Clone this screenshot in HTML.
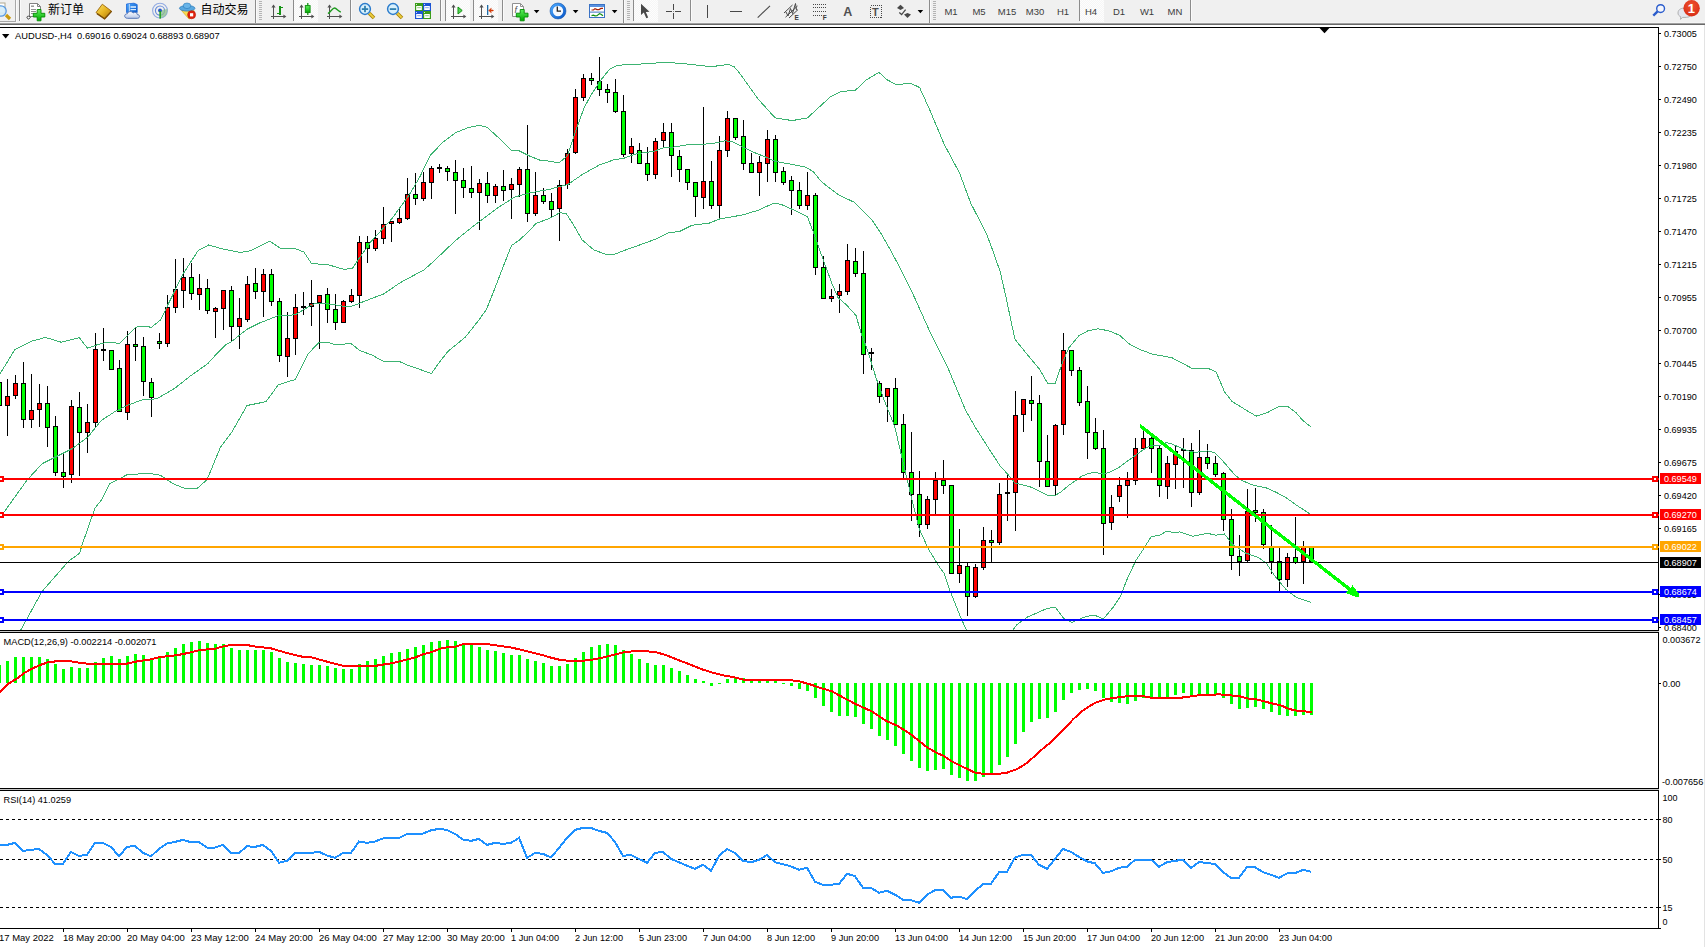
<!DOCTYPE html><html><head><meta charset="utf-8"><title>AUDUSD-,H4</title><style>
html,body{margin:0;padding:0;background:#fff;overflow:hidden;width:1705px;height:947px}svg{display:block;position:absolute;left:0;top:0}
text{font-family:"Liberation Sans","Noto Sans CJK SC",sans-serif;fill:#000}
.ax{font-size:9.9px}.tb{font-size:9.5px;fill:#3c3c3c}.cn{font-size:12px;fill:#000}.lb{font-size:9.9px;fill:#fff}
</style></head><body>
<svg width="1705" height="947" viewBox="0 0 1705 947">
<rect x="0" y="0" width="1705" height="947" fill="#fff"/>
<g shape-rendering="crispEdges">
<rect x="0" y="27" width="1659" height="1" fill="#000"/>
<rect x="1658" y="27" width="1" height="902" fill="#000"/>
<rect x="0" y="630" width="1659" height="1" fill="#000"/>
<rect x="0" y="631" width="1659" height="1" fill="#c8c8c8"/>
<rect x="0" y="632" width="1659" height="1" fill="#000"/>
<rect x="0" y="788" width="1659" height="1" fill="#000"/>
<rect x="0" y="789" width="1659" height="1" fill="#c8c8c8"/>
<rect x="0" y="790" width="1659" height="1" fill="#000"/>
<rect x="0" y="928" width="1659" height="1" fill="#000"/>
<clipPath id="cm"><rect x="0" y="28" width="1658" height="602"/></clipPath>
<g clip-path="url(#cm)">
<rect x="-1" y="378" width="1" height="32" fill="#000"/>
<rect x="-3" y="382" width="5" height="24" fill="#000"/>
<rect x="-2" y="383" width="3" height="22" fill="#00ff00"/>
<rect x="7" y="379" width="1" height="57" fill="#000"/>
<rect x="5" y="396" width="5" height="10" fill="#000"/>
<rect x="6" y="397" width="3" height="8" fill="#ff0000"/>
<rect x="15" y="375" width="1" height="24" fill="#000"/>
<rect x="13" y="383" width="5" height="13" fill="#000"/>
<rect x="14" y="384" width="3" height="11" fill="#ff0000"/>
<rect x="23" y="362" width="1" height="66" fill="#000"/>
<rect x="21" y="383" width="5" height="37" fill="#000"/>
<rect x="22" y="384" width="3" height="35" fill="#00ff00"/>
<rect x="31" y="374" width="1" height="54" fill="#000"/>
<rect x="29" y="410" width="5" height="10" fill="#000"/>
<rect x="30" y="411" width="3" height="8" fill="#ff0000"/>
<rect x="39" y="384" width="1" height="43" fill="#000"/>
<rect x="37" y="403" width="5" height="7" fill="#000"/>
<rect x="38" y="404" width="3" height="5" fill="#ff0000"/>
<rect x="47" y="386" width="1" height="61" fill="#000"/>
<rect x="45" y="403" width="5" height="25" fill="#000"/>
<rect x="46" y="404" width="3" height="23" fill="#00ff00"/>
<rect x="55" y="416" width="1" height="60" fill="#000"/>
<rect x="53" y="426" width="5" height="47" fill="#000"/>
<rect x="54" y="427" width="3" height="45" fill="#00ff00"/>
<rect x="63" y="452" width="1" height="36" fill="#000"/>
<rect x="61" y="472" width="5" height="5" fill="#000"/>
<rect x="62" y="473" width="3" height="3" fill="#00ff00"/>
<rect x="71" y="400" width="1" height="83" fill="#000"/>
<rect x="69" y="406" width="5" height="69" fill="#000"/>
<rect x="70" y="407" width="3" height="67" fill="#ff0000"/>
<rect x="79" y="392" width="1" height="84" fill="#000"/>
<rect x="77" y="407" width="5" height="26" fill="#000"/>
<rect x="78" y="408" width="3" height="24" fill="#00ff00"/>
<rect x="87" y="404" width="1" height="49" fill="#000"/>
<rect x="85" y="422" width="5" height="11" fill="#000"/>
<rect x="86" y="423" width="3" height="9" fill="#ff0000"/>
<rect x="95" y="333" width="1" height="95" fill="#000"/>
<rect x="93" y="349" width="5" height="74" fill="#000"/>
<rect x="94" y="350" width="3" height="72" fill="#ff0000"/>
<rect x="103" y="328" width="1" height="33" fill="#000"/>
<rect x="101" y="349" width="5" height="2" fill="#000"/>
<rect x="111" y="350" width="1" height="20" fill="#000"/>
<rect x="109" y="350" width="5" height="20" fill="#000"/>
<rect x="110" y="351" width="3" height="18" fill="#00ff00"/>
<rect x="119" y="360" width="1" height="52" fill="#000"/>
<rect x="117" y="368" width="5" height="44" fill="#000"/>
<rect x="118" y="369" width="3" height="42" fill="#00ff00"/>
<rect x="127" y="331" width="1" height="89" fill="#000"/>
<rect x="125" y="344" width="5" height="69" fill="#000"/>
<rect x="126" y="345" width="3" height="67" fill="#ff0000"/>
<rect x="135" y="327" width="1" height="34" fill="#000"/>
<rect x="133" y="344" width="5" height="3" fill="#000"/>
<rect x="134" y="345" width="3" height="1" fill="#00ff00"/>
<rect x="143" y="337" width="1" height="59" fill="#000"/>
<rect x="141" y="346" width="5" height="36" fill="#000"/>
<rect x="142" y="347" width="3" height="34" fill="#00ff00"/>
<rect x="151" y="378" width="1" height="39" fill="#000"/>
<rect x="149" y="382" width="5" height="16" fill="#000"/>
<rect x="150" y="383" width="3" height="14" fill="#00ff00"/>
<rect x="159" y="333" width="1" height="16" fill="#000"/>
<rect x="157" y="341" width="5" height="3" fill="#000"/>
<rect x="158" y="342" width="3" height="1" fill="#00ff00"/>
<rect x="167" y="295" width="1" height="52" fill="#000"/>
<rect x="165" y="307" width="5" height="37" fill="#000"/>
<rect x="166" y="308" width="3" height="35" fill="#ff0000"/>
<rect x="175" y="259" width="1" height="54" fill="#000"/>
<rect x="173" y="289" width="5" height="19" fill="#000"/>
<rect x="174" y="290" width="3" height="17" fill="#ff0000"/>
<rect x="183" y="258" width="1" height="50" fill="#000"/>
<rect x="181" y="277" width="5" height="14" fill="#000"/>
<rect x="182" y="278" width="3" height="12" fill="#ff0000"/>
<rect x="191" y="263" width="1" height="37" fill="#000"/>
<rect x="189" y="277" width="5" height="17" fill="#000"/>
<rect x="190" y="278" width="3" height="15" fill="#00ff00"/>
<rect x="199" y="274" width="1" height="36" fill="#000"/>
<rect x="197" y="288" width="5" height="7" fill="#000"/>
<rect x="198" y="289" width="3" height="5" fill="#ff0000"/>
<rect x="207" y="279" width="1" height="35" fill="#000"/>
<rect x="205" y="288" width="5" height="23" fill="#000"/>
<rect x="206" y="289" width="3" height="21" fill="#00ff00"/>
<rect x="215" y="307" width="1" height="31" fill="#000"/>
<rect x="213" y="308" width="5" height="4" fill="#000"/>
<rect x="214" y="309" width="3" height="2" fill="#ff0000"/>
<rect x="223" y="290" width="1" height="40" fill="#000"/>
<rect x="221" y="290" width="5" height="19" fill="#000"/>
<rect x="222" y="291" width="3" height="17" fill="#ff0000"/>
<rect x="231" y="286" width="1" height="56" fill="#000"/>
<rect x="229" y="290" width="5" height="37" fill="#000"/>
<rect x="230" y="291" width="3" height="35" fill="#00ff00"/>
<rect x="239" y="298" width="1" height="51" fill="#000"/>
<rect x="237" y="318" width="5" height="9" fill="#000"/>
<rect x="238" y="319" width="3" height="7" fill="#ff0000"/>
<rect x="247" y="276" width="1" height="46" fill="#000"/>
<rect x="245" y="284" width="5" height="36" fill="#000"/>
<rect x="246" y="285" width="3" height="34" fill="#ff0000"/>
<rect x="255" y="268" width="1" height="31" fill="#000"/>
<rect x="253" y="283" width="5" height="9" fill="#000"/>
<rect x="254" y="284" width="3" height="7" fill="#00ff00"/>
<rect x="263" y="269" width="1" height="48" fill="#000"/>
<rect x="261" y="274" width="5" height="18" fill="#000"/>
<rect x="262" y="275" width="3" height="16" fill="#ff0000"/>
<rect x="271" y="269" width="1" height="37" fill="#000"/>
<rect x="269" y="274" width="5" height="28" fill="#000"/>
<rect x="270" y="275" width="3" height="26" fill="#00ff00"/>
<rect x="279" y="298" width="1" height="64" fill="#000"/>
<rect x="277" y="301" width="5" height="55" fill="#000"/>
<rect x="278" y="302" width="3" height="53" fill="#00ff00"/>
<rect x="287" y="312" width="1" height="65" fill="#000"/>
<rect x="285" y="338" width="5" height="19" fill="#000"/>
<rect x="286" y="339" width="3" height="17" fill="#ff0000"/>
<rect x="295" y="294" width="1" height="61" fill="#000"/>
<rect x="293" y="307" width="5" height="32" fill="#000"/>
<rect x="294" y="308" width="3" height="30" fill="#ff0000"/>
<rect x="303" y="292" width="1" height="23" fill="#000"/>
<rect x="301" y="306" width="5" height="2" fill="#000"/>
<rect x="311" y="280" width="1" height="46" fill="#000"/>
<rect x="309" y="303" width="5" height="4" fill="#000"/>
<rect x="310" y="304" width="3" height="2" fill="#ff0000"/>
<rect x="319" y="295" width="1" height="54" fill="#000"/>
<rect x="317" y="295" width="5" height="8" fill="#000"/>
<rect x="318" y="296" width="3" height="6" fill="#ff0000"/>
<rect x="327" y="288" width="1" height="35" fill="#000"/>
<rect x="325" y="294" width="5" height="16" fill="#000"/>
<rect x="326" y="295" width="3" height="14" fill="#00ff00"/>
<rect x="335" y="294" width="1" height="36" fill="#000"/>
<rect x="333" y="309" width="5" height="14" fill="#000"/>
<rect x="334" y="310" width="3" height="12" fill="#00ff00"/>
<rect x="343" y="300" width="1" height="23" fill="#000"/>
<rect x="341" y="301" width="5" height="22" fill="#000"/>
<rect x="342" y="302" width="3" height="20" fill="#ff0000"/>
<rect x="351" y="289" width="1" height="14" fill="#000"/>
<rect x="349" y="295" width="5" height="7" fill="#000"/>
<rect x="350" y="296" width="3" height="5" fill="#ff0000"/>
<rect x="359" y="236" width="1" height="72" fill="#000"/>
<rect x="357" y="242" width="5" height="54" fill="#000"/>
<rect x="358" y="243" width="3" height="52" fill="#ff0000"/>
<rect x="367" y="236" width="1" height="27" fill="#000"/>
<rect x="365" y="242" width="5" height="7" fill="#000"/>
<rect x="366" y="243" width="3" height="5" fill="#00ff00"/>
<rect x="375" y="230" width="1" height="21" fill="#000"/>
<rect x="373" y="238" width="5" height="11" fill="#000"/>
<rect x="374" y="239" width="3" height="9" fill="#ff0000"/>
<rect x="383" y="207" width="1" height="37" fill="#000"/>
<rect x="381" y="224" width="5" height="15" fill="#000"/>
<rect x="382" y="225" width="3" height="13" fill="#ff0000"/>
<rect x="391" y="221" width="1" height="21" fill="#000"/>
<rect x="389" y="221" width="5" height="3" fill="#000"/>
<rect x="390" y="222" width="3" height="1" fill="#ff0000"/>
<rect x="399" y="208" width="1" height="16" fill="#000"/>
<rect x="397" y="218" width="5" height="5" fill="#000"/>
<rect x="398" y="219" width="3" height="3" fill="#ff0000"/>
<rect x="407" y="178" width="1" height="42" fill="#000"/>
<rect x="405" y="194" width="5" height="25" fill="#000"/>
<rect x="406" y="195" width="3" height="23" fill="#ff0000"/>
<rect x="415" y="173" width="1" height="32" fill="#000"/>
<rect x="413" y="194" width="5" height="5" fill="#000"/>
<rect x="414" y="195" width="3" height="3" fill="#00ff00"/>
<rect x="423" y="172" width="1" height="29" fill="#000"/>
<rect x="421" y="182" width="5" height="17" fill="#000"/>
<rect x="422" y="183" width="3" height="15" fill="#ff0000"/>
<rect x="431" y="166" width="1" height="33" fill="#000"/>
<rect x="429" y="168" width="5" height="15" fill="#000"/>
<rect x="430" y="169" width="3" height="13" fill="#ff0000"/>
<rect x="439" y="164" width="1" height="9" fill="#000"/>
<rect x="437" y="167" width="5" height="2" fill="#000"/>
<rect x="447" y="166" width="1" height="15" fill="#000"/>
<rect x="445" y="168" width="5" height="4" fill="#000"/>
<rect x="446" y="169" width="3" height="2" fill="#00ff00"/>
<rect x="455" y="160" width="1" height="54" fill="#000"/>
<rect x="453" y="172" width="5" height="9" fill="#000"/>
<rect x="454" y="173" width="3" height="7" fill="#00ff00"/>
<rect x="463" y="168" width="1" height="30" fill="#000"/>
<rect x="461" y="180" width="5" height="8" fill="#000"/>
<rect x="462" y="181" width="3" height="6" fill="#00ff00"/>
<rect x="471" y="166" width="1" height="32" fill="#000"/>
<rect x="469" y="188" width="5" height="5" fill="#000"/>
<rect x="470" y="189" width="3" height="3" fill="#00ff00"/>
<rect x="479" y="179" width="1" height="51" fill="#000"/>
<rect x="477" y="183" width="5" height="10" fill="#000"/>
<rect x="478" y="184" width="3" height="8" fill="#ff0000"/>
<rect x="487" y="172" width="1" height="31" fill="#000"/>
<rect x="485" y="183" width="5" height="13" fill="#000"/>
<rect x="486" y="184" width="3" height="11" fill="#00ff00"/>
<rect x="495" y="184" width="1" height="19" fill="#000"/>
<rect x="493" y="186" width="5" height="10" fill="#000"/>
<rect x="494" y="187" width="3" height="8" fill="#ff0000"/>
<rect x="503" y="170" width="1" height="31" fill="#000"/>
<rect x="501" y="186" width="5" height="5" fill="#000"/>
<rect x="502" y="187" width="3" height="3" fill="#00ff00"/>
<rect x="511" y="178" width="1" height="41" fill="#000"/>
<rect x="509" y="184" width="5" height="6" fill="#000"/>
<rect x="510" y="185" width="3" height="4" fill="#ff0000"/>
<rect x="519" y="167" width="1" height="30" fill="#000"/>
<rect x="517" y="169" width="5" height="16" fill="#000"/>
<rect x="518" y="170" width="3" height="14" fill="#ff0000"/>
<rect x="527" y="125" width="1" height="97" fill="#000"/>
<rect x="525" y="169" width="5" height="45" fill="#000"/>
<rect x="526" y="170" width="3" height="43" fill="#00ff00"/>
<rect x="535" y="172" width="1" height="44" fill="#000"/>
<rect x="533" y="195" width="5" height="19" fill="#000"/>
<rect x="534" y="196" width="3" height="17" fill="#ff0000"/>
<rect x="543" y="188" width="1" height="16" fill="#000"/>
<rect x="541" y="195" width="5" height="7" fill="#000"/>
<rect x="542" y="196" width="3" height="5" fill="#00ff00"/>
<rect x="551" y="193" width="1" height="24" fill="#000"/>
<rect x="549" y="201" width="5" height="9" fill="#000"/>
<rect x="550" y="202" width="3" height="7" fill="#00ff00"/>
<rect x="559" y="180" width="1" height="61" fill="#000"/>
<rect x="557" y="185" width="5" height="24" fill="#000"/>
<rect x="558" y="186" width="3" height="22" fill="#ff0000"/>
<rect x="567" y="149" width="1" height="40" fill="#000"/>
<rect x="565" y="153" width="5" height="32" fill="#000"/>
<rect x="566" y="154" width="3" height="30" fill="#ff0000"/>
<rect x="575" y="89" width="1" height="65" fill="#000"/>
<rect x="573" y="97" width="5" height="56" fill="#000"/>
<rect x="574" y="98" width="3" height="54" fill="#ff0000"/>
<rect x="583" y="74" width="1" height="27" fill="#000"/>
<rect x="581" y="78" width="5" height="20" fill="#000"/>
<rect x="582" y="79" width="3" height="18" fill="#ff0000"/>
<rect x="591" y="73" width="1" height="12" fill="#000"/>
<rect x="589" y="78" width="5" height="3" fill="#000"/>
<rect x="590" y="79" width="3" height="1" fill="#00ff00"/>
<rect x="599" y="57" width="1" height="39" fill="#000"/>
<rect x="597" y="81" width="5" height="9" fill="#000"/>
<rect x="598" y="82" width="3" height="7" fill="#00ff00"/>
<rect x="607" y="84" width="1" height="19" fill="#000"/>
<rect x="605" y="89" width="5" height="4" fill="#000"/>
<rect x="606" y="90" width="3" height="2" fill="#00ff00"/>
<rect x="615" y="79" width="1" height="34" fill="#000"/>
<rect x="613" y="92" width="5" height="20" fill="#000"/>
<rect x="614" y="93" width="3" height="18" fill="#00ff00"/>
<rect x="623" y="95" width="1" height="62" fill="#000"/>
<rect x="621" y="111" width="5" height="44" fill="#000"/>
<rect x="622" y="112" width="3" height="42" fill="#00ff00"/>
<rect x="631" y="138" width="1" height="25" fill="#000"/>
<rect x="629" y="146" width="5" height="8" fill="#000"/>
<rect x="630" y="147" width="3" height="6" fill="#ff0000"/>
<rect x="639" y="143" width="1" height="21" fill="#000"/>
<rect x="637" y="150" width="5" height="14" fill="#000"/>
<rect x="638" y="151" width="3" height="12" fill="#00ff00"/>
<rect x="647" y="147" width="1" height="34" fill="#000"/>
<rect x="645" y="163" width="5" height="12" fill="#000"/>
<rect x="646" y="164" width="3" height="10" fill="#00ff00"/>
<rect x="655" y="138" width="1" height="41" fill="#000"/>
<rect x="653" y="141" width="5" height="34" fill="#000"/>
<rect x="654" y="142" width="3" height="32" fill="#ff0000"/>
<rect x="663" y="123" width="1" height="25" fill="#000"/>
<rect x="661" y="132" width="5" height="9" fill="#000"/>
<rect x="662" y="133" width="3" height="7" fill="#ff0000"/>
<rect x="671" y="123" width="1" height="54" fill="#000"/>
<rect x="669" y="132" width="5" height="24" fill="#000"/>
<rect x="670" y="133" width="3" height="22" fill="#00ff00"/>
<rect x="679" y="150" width="1" height="32" fill="#000"/>
<rect x="677" y="156" width="5" height="14" fill="#000"/>
<rect x="678" y="157" width="3" height="12" fill="#00ff00"/>
<rect x="687" y="169" width="1" height="21" fill="#000"/>
<rect x="685" y="169" width="5" height="14" fill="#000"/>
<rect x="686" y="170" width="3" height="12" fill="#00ff00"/>
<rect x="695" y="182" width="1" height="35" fill="#000"/>
<rect x="693" y="182" width="5" height="15" fill="#000"/>
<rect x="694" y="183" width="3" height="13" fill="#00ff00"/>
<rect x="703" y="107" width="1" height="102" fill="#000"/>
<rect x="701" y="181" width="5" height="17" fill="#000"/>
<rect x="702" y="182" width="3" height="15" fill="#ff0000"/>
<rect x="711" y="161" width="1" height="48" fill="#000"/>
<rect x="709" y="181" width="5" height="25" fill="#000"/>
<rect x="710" y="182" width="3" height="23" fill="#00ff00"/>
<rect x="719" y="136" width="1" height="83" fill="#000"/>
<rect x="717" y="150" width="5" height="56" fill="#000"/>
<rect x="718" y="151" width="3" height="54" fill="#ff0000"/>
<rect x="727" y="111" width="1" height="46" fill="#000"/>
<rect x="725" y="118" width="5" height="33" fill="#000"/>
<rect x="726" y="119" width="3" height="31" fill="#ff0000"/>
<rect x="735" y="118" width="1" height="22" fill="#000"/>
<rect x="733" y="118" width="5" height="20" fill="#000"/>
<rect x="734" y="119" width="3" height="18" fill="#00ff00"/>
<rect x="743" y="120" width="1" height="50" fill="#000"/>
<rect x="741" y="136" width="5" height="28" fill="#000"/>
<rect x="742" y="137" width="3" height="26" fill="#00ff00"/>
<rect x="751" y="153" width="1" height="20" fill="#000"/>
<rect x="749" y="163" width="5" height="10" fill="#000"/>
<rect x="750" y="164" width="3" height="8" fill="#00ff00"/>
<rect x="759" y="156" width="1" height="40" fill="#000"/>
<rect x="757" y="162" width="5" height="11" fill="#000"/>
<rect x="758" y="163" width="3" height="9" fill="#ff0000"/>
<rect x="767" y="130" width="1" height="52" fill="#000"/>
<rect x="765" y="139" width="5" height="25" fill="#000"/>
<rect x="766" y="140" width="3" height="23" fill="#ff0000"/>
<rect x="775" y="135" width="1" height="47" fill="#000"/>
<rect x="773" y="139" width="5" height="34" fill="#000"/>
<rect x="774" y="140" width="3" height="32" fill="#00ff00"/>
<rect x="783" y="167" width="1" height="18" fill="#000"/>
<rect x="781" y="171" width="5" height="12" fill="#000"/>
<rect x="782" y="172" width="3" height="10" fill="#00ff00"/>
<rect x="791" y="176" width="1" height="39" fill="#000"/>
<rect x="789" y="180" width="5" height="11" fill="#000"/>
<rect x="790" y="181" width="3" height="9" fill="#00ff00"/>
<rect x="799" y="182" width="1" height="27" fill="#000"/>
<rect x="797" y="190" width="5" height="16" fill="#000"/>
<rect x="798" y="191" width="3" height="14" fill="#00ff00"/>
<rect x="807" y="172" width="1" height="38" fill="#000"/>
<rect x="805" y="195" width="5" height="11" fill="#000"/>
<rect x="806" y="196" width="3" height="9" fill="#ff0000"/>
<rect x="815" y="193" width="1" height="82" fill="#000"/>
<rect x="813" y="195" width="5" height="73" fill="#000"/>
<rect x="814" y="196" width="3" height="71" fill="#00ff00"/>
<rect x="823" y="256" width="1" height="43" fill="#000"/>
<rect x="821" y="267" width="5" height="32" fill="#000"/>
<rect x="822" y="268" width="3" height="30" fill="#00ff00"/>
<rect x="831" y="289" width="1" height="13" fill="#000"/>
<rect x="829" y="296" width="5" height="3" fill="#000"/>
<rect x="830" y="297" width="3" height="1" fill="#ff0000"/>
<rect x="839" y="284" width="1" height="29" fill="#000"/>
<rect x="837" y="291" width="5" height="5" fill="#000"/>
<rect x="838" y="292" width="3" height="3" fill="#ff0000"/>
<rect x="847" y="244" width="1" height="51" fill="#000"/>
<rect x="845" y="260" width="5" height="32" fill="#000"/>
<rect x="846" y="261" width="3" height="30" fill="#ff0000"/>
<rect x="855" y="248" width="1" height="29" fill="#000"/>
<rect x="853" y="261" width="5" height="13" fill="#000"/>
<rect x="854" y="262" width="3" height="11" fill="#00ff00"/>
<rect x="863" y="251" width="1" height="123" fill="#000"/>
<rect x="861" y="273" width="5" height="82" fill="#000"/>
<rect x="862" y="274" width="3" height="80" fill="#00ff00"/>
<rect x="871" y="348" width="1" height="22" fill="#000"/>
<rect x="869" y="352" width="5" height="2" fill="#000"/>
<rect x="879" y="381" width="1" height="22" fill="#000"/>
<rect x="877" y="383" width="5" height="14" fill="#000"/>
<rect x="878" y="384" width="3" height="12" fill="#00ff00"/>
<rect x="887" y="388" width="1" height="34" fill="#000"/>
<rect x="885" y="388" width="5" height="9" fill="#000"/>
<rect x="886" y="389" width="3" height="7" fill="#ff0000"/>
<rect x="895" y="378" width="1" height="47" fill="#000"/>
<rect x="893" y="388" width="5" height="37" fill="#000"/>
<rect x="894" y="389" width="3" height="35" fill="#00ff00"/>
<rect x="903" y="414" width="1" height="64" fill="#000"/>
<rect x="901" y="424" width="5" height="49" fill="#000"/>
<rect x="902" y="425" width="3" height="47" fill="#00ff00"/>
<rect x="911" y="432" width="1" height="89" fill="#000"/>
<rect x="909" y="472" width="5" height="23" fill="#000"/>
<rect x="910" y="473" width="3" height="21" fill="#00ff00"/>
<rect x="919" y="471" width="1" height="66" fill="#000"/>
<rect x="917" y="494" width="5" height="31" fill="#000"/>
<rect x="918" y="495" width="3" height="29" fill="#00ff00"/>
<rect x="927" y="496" width="1" height="33" fill="#000"/>
<rect x="925" y="499" width="5" height="26" fill="#000"/>
<rect x="926" y="500" width="3" height="24" fill="#ff0000"/>
<rect x="935" y="472" width="1" height="42" fill="#000"/>
<rect x="933" y="480" width="5" height="20" fill="#000"/>
<rect x="934" y="481" width="3" height="18" fill="#ff0000"/>
<rect x="943" y="460" width="1" height="34" fill="#000"/>
<rect x="941" y="480" width="5" height="6" fill="#000"/>
<rect x="942" y="481" width="3" height="4" fill="#00ff00"/>
<rect x="951" y="485" width="1" height="89" fill="#000"/>
<rect x="949" y="485" width="5" height="89" fill="#000"/>
<rect x="950" y="486" width="3" height="87" fill="#00ff00"/>
<rect x="959" y="529" width="1" height="54" fill="#000"/>
<rect x="957" y="565" width="5" height="9" fill="#000"/>
<rect x="958" y="566" width="3" height="7" fill="#ff0000"/>
<rect x="967" y="562" width="1" height="54" fill="#000"/>
<rect x="965" y="566" width="5" height="31" fill="#000"/>
<rect x="966" y="567" width="3" height="29" fill="#00ff00"/>
<rect x="975" y="564" width="1" height="34" fill="#000"/>
<rect x="973" y="567" width="5" height="30" fill="#000"/>
<rect x="974" y="568" width="3" height="28" fill="#ff0000"/>
<rect x="983" y="527" width="1" height="43" fill="#000"/>
<rect x="981" y="540" width="5" height="28" fill="#000"/>
<rect x="982" y="541" width="3" height="26" fill="#ff0000"/>
<rect x="991" y="530" width="1" height="33" fill="#000"/>
<rect x="989" y="540" width="5" height="3" fill="#000"/>
<rect x="990" y="541" width="3" height="1" fill="#00ff00"/>
<rect x="999" y="483" width="1" height="62" fill="#000"/>
<rect x="997" y="494" width="5" height="49" fill="#000"/>
<rect x="998" y="495" width="3" height="47" fill="#ff0000"/>
<rect x="1007" y="474" width="1" height="47" fill="#000"/>
<rect x="1005" y="492" width="5" height="2" fill="#000"/>
<rect x="1015" y="391" width="1" height="140" fill="#000"/>
<rect x="1013" y="415" width="5" height="78" fill="#000"/>
<rect x="1014" y="416" width="3" height="76" fill="#ff0000"/>
<rect x="1023" y="399" width="1" height="33" fill="#000"/>
<rect x="1021" y="399" width="5" height="16" fill="#000"/>
<rect x="1022" y="400" width="3" height="14" fill="#ff0000"/>
<rect x="1031" y="376" width="1" height="45" fill="#000"/>
<rect x="1029" y="400" width="5" height="4" fill="#000"/>
<rect x="1030" y="401" width="3" height="2" fill="#00ff00"/>
<rect x="1039" y="395" width="1" height="92" fill="#000"/>
<rect x="1037" y="403" width="5" height="59" fill="#000"/>
<rect x="1038" y="404" width="3" height="57" fill="#00ff00"/>
<rect x="1047" y="435" width="1" height="52" fill="#000"/>
<rect x="1045" y="461" width="5" height="26" fill="#000"/>
<rect x="1046" y="462" width="3" height="24" fill="#00ff00"/>
<rect x="1055" y="424" width="1" height="71" fill="#000"/>
<rect x="1053" y="425" width="5" height="61" fill="#000"/>
<rect x="1054" y="426" width="3" height="59" fill="#ff0000"/>
<rect x="1063" y="333" width="1" height="102" fill="#000"/>
<rect x="1061" y="350" width="5" height="75" fill="#000"/>
<rect x="1062" y="351" width="3" height="73" fill="#ff0000"/>
<rect x="1071" y="350" width="1" height="26" fill="#000"/>
<rect x="1069" y="350" width="5" height="21" fill="#000"/>
<rect x="1070" y="351" width="3" height="19" fill="#00ff00"/>
<rect x="1079" y="367" width="1" height="39" fill="#000"/>
<rect x="1077" y="370" width="5" height="33" fill="#000"/>
<rect x="1078" y="371" width="3" height="31" fill="#00ff00"/>
<rect x="1087" y="386" width="1" height="73" fill="#000"/>
<rect x="1085" y="401" width="5" height="32" fill="#000"/>
<rect x="1086" y="402" width="3" height="30" fill="#00ff00"/>
<rect x="1095" y="418" width="1" height="32" fill="#000"/>
<rect x="1093" y="432" width="5" height="17" fill="#000"/>
<rect x="1094" y="433" width="3" height="15" fill="#00ff00"/>
<rect x="1103" y="430" width="1" height="125" fill="#000"/>
<rect x="1101" y="448" width="5" height="76" fill="#000"/>
<rect x="1102" y="449" width="3" height="74" fill="#00ff00"/>
<rect x="1111" y="495" width="1" height="35" fill="#000"/>
<rect x="1109" y="507" width="5" height="16" fill="#000"/>
<rect x="1110" y="508" width="3" height="14" fill="#ff0000"/>
<rect x="1119" y="477" width="1" height="25" fill="#000"/>
<rect x="1117" y="485" width="5" height="12" fill="#000"/>
<rect x="1118" y="486" width="3" height="10" fill="#ff0000"/>
<rect x="1127" y="472" width="1" height="46" fill="#000"/>
<rect x="1125" y="480" width="5" height="6" fill="#000"/>
<rect x="1126" y="481" width="3" height="4" fill="#ff0000"/>
<rect x="1135" y="438" width="1" height="47" fill="#000"/>
<rect x="1133" y="448" width="5" height="33" fill="#000"/>
<rect x="1134" y="449" width="3" height="31" fill="#ff0000"/>
<rect x="1143" y="430" width="1" height="20" fill="#000"/>
<rect x="1141" y="438" width="5" height="11" fill="#000"/>
<rect x="1142" y="439" width="3" height="9" fill="#ff0000"/>
<rect x="1151" y="436" width="1" height="37" fill="#000"/>
<rect x="1149" y="438" width="5" height="11" fill="#000"/>
<rect x="1150" y="439" width="3" height="9" fill="#00ff00"/>
<rect x="1159" y="446" width="1" height="51" fill="#000"/>
<rect x="1157" y="448" width="5" height="38" fill="#000"/>
<rect x="1158" y="449" width="3" height="36" fill="#00ff00"/>
<rect x="1167" y="456" width="1" height="43" fill="#000"/>
<rect x="1165" y="463" width="5" height="24" fill="#000"/>
<rect x="1166" y="464" width="3" height="22" fill="#ff0000"/>
<rect x="1175" y="446" width="1" height="43" fill="#000"/>
<rect x="1173" y="451" width="5" height="14" fill="#000"/>
<rect x="1174" y="452" width="3" height="12" fill="#ff0000"/>
<rect x="1183" y="438" width="1" height="50" fill="#000"/>
<rect x="1181" y="449" width="5" height="2" fill="#000"/>
<rect x="1191" y="443" width="1" height="64" fill="#000"/>
<rect x="1189" y="450" width="5" height="43" fill="#000"/>
<rect x="1190" y="451" width="3" height="41" fill="#00ff00"/>
<rect x="1199" y="430" width="1" height="65" fill="#000"/>
<rect x="1197" y="457" width="5" height="36" fill="#000"/>
<rect x="1198" y="458" width="3" height="34" fill="#ff0000"/>
<rect x="1207" y="444" width="1" height="25" fill="#000"/>
<rect x="1205" y="457" width="5" height="7" fill="#000"/>
<rect x="1206" y="458" width="3" height="5" fill="#00ff00"/>
<rect x="1215" y="456" width="1" height="21" fill="#000"/>
<rect x="1213" y="463" width="5" height="12" fill="#000"/>
<rect x="1214" y="464" width="3" height="10" fill="#00ff00"/>
<rect x="1223" y="472" width="1" height="59" fill="#000"/>
<rect x="1221" y="473" width="5" height="47" fill="#000"/>
<rect x="1222" y="474" width="3" height="45" fill="#00ff00"/>
<rect x="1231" y="509" width="1" height="61" fill="#000"/>
<rect x="1229" y="519" width="5" height="37" fill="#000"/>
<rect x="1230" y="520" width="3" height="35" fill="#00ff00"/>
<rect x="1239" y="535" width="1" height="41" fill="#000"/>
<rect x="1237" y="556" width="5" height="6" fill="#000"/>
<rect x="1238" y="557" width="3" height="4" fill="#00ff00"/>
<rect x="1247" y="489" width="1" height="73" fill="#000"/>
<rect x="1245" y="511" width="5" height="50" fill="#000"/>
<rect x="1246" y="512" width="3" height="48" fill="#ff0000"/>
<rect x="1255" y="488" width="1" height="34" fill="#000"/>
<rect x="1253" y="510" width="5" height="3" fill="#000"/>
<rect x="1254" y="511" width="3" height="1" fill="#00ff00"/>
<rect x="1263" y="509" width="1" height="40" fill="#000"/>
<rect x="1261" y="512" width="5" height="33" fill="#000"/>
<rect x="1262" y="513" width="3" height="31" fill="#00ff00"/>
<rect x="1271" y="525" width="1" height="49" fill="#000"/>
<rect x="1269" y="546" width="5" height="16" fill="#000"/>
<rect x="1270" y="547" width="3" height="14" fill="#00ff00"/>
<rect x="1279" y="548" width="1" height="43" fill="#000"/>
<rect x="1277" y="561" width="5" height="19" fill="#000"/>
<rect x="1278" y="562" width="3" height="17" fill="#00ff00"/>
<rect x="1287" y="553" width="1" height="34" fill="#000"/>
<rect x="1285" y="557" width="5" height="23" fill="#000"/>
<rect x="1286" y="558" width="3" height="21" fill="#ff0000"/>
<rect x="1295" y="517" width="1" height="47" fill="#000"/>
<rect x="1293" y="557" width="5" height="6" fill="#000"/>
<rect x="1294" y="558" width="3" height="4" fill="#00ff00"/>
<rect x="1303" y="541" width="1" height="43" fill="#000"/>
<rect x="1301" y="547" width="5" height="15" fill="#000"/>
<rect x="1302" y="548" width="3" height="13" fill="#ff0000"/>
<rect x="1311" y="546" width="1" height="17" fill="#000"/>
<rect x="1309" y="547" width="5" height="15" fill="#000"/>
<rect x="1310" y="548" width="3" height="13" fill="#00ff00"/>
<polyline points="0.0,373.9 14.8,349.6 31.7,341.2 45.4,337.4 61.2,342.2 79.2,337.6 87.6,348.2 98.2,344.4 107.1,342.3 115.3,342.3 117.0,343.6 119.5,343.6 135.6,327.3 139.4,326.3 147.7,326.3 151.0,327.6 160.5,320.0 170.6,299.3 183.2,273.9 198.0,250.7 208.6,245.0 223.4,249.2 240.3,252.4 250.8,250.7 269.8,241.2 280.4,248.2 295.2,248.6 303.9,252.0 311.5,263.4 329.0,265.0 343.7,269.3 352.2,268.6 360.6,256.3 371.1,241.5 392.2,218.3 409.1,195.0 419.7,177.1 430.3,155.3 442.9,142.2 455.6,132.7 468.3,127.5 479.9,125.3 487.3,127.5 497.8,137.0 511.6,150.3 519.0,150.7 529.5,156.0 540.0,160.2 550.6,161.3 559.0,163.0 567.5,155.6 575.9,130.3 584.4,107.0 592.8,92.2 601.2,79.6 609.7,69.0 618.1,65.2 635.0,64.4 660.4,62.7 679.4,63.1 709.0,66.5 719.5,65.8 728.0,64.2 734.3,66.9 739.0,72.3 758.0,98.9 775.1,117.9 792.2,120.6 807.4,117.9 830.2,97.0 841.6,91.3 855.0,90.6 866.4,79.9 878.9,72.3 887.3,79.9 896.8,84.9 910.1,83.0 919.6,87.5 929.1,108.4 944.3,144.5 959.5,173.0 970.9,203.5 986.5,233.8 992.8,250.7 1000.2,271.8 1005.5,295.0 1011.8,324.6 1015.0,339.4 1028.7,356.3 1039.3,369.0 1047.7,383.3 1055.1,383.3 1062.5,362.6 1068.8,347.8 1079.4,335.2 1087.8,330.9 1098.4,328.8 1109.0,330.9 1119.5,335.2 1130.1,344.7 1140.0,349.6 1152.7,354.2 1171.7,357.6 1191.7,368.2 1207.6,368.2 1216.0,371.7 1224.5,391.8 1231.9,401.3 1245.6,409.8 1256.2,416.1 1266.7,412.9 1279.4,406.2 1287.8,406.6 1296.3,412.9 1302.6,420.3 1310.6,426.7" fill="none" stroke="#3cb371" stroke-width="1" />
<polyline points="-3.0,522.0 12.7,500.0 27.5,479.5 42.2,463.7 55.0,457.3 71.8,448.9 87.6,437.3 101.4,420.4 116.0,410.9 126.7,405.6 143.6,399.3 152.0,399.3 157.2,398.4 166.0,393.5 174.9,388.2 190.1,376.2 207.9,363.5 216.0,354.6 225.3,345.2 231.7,341.4 246.9,329.3 259.6,323.0 277.3,316.0 288.7,315.8 296.3,314.1 307.7,307.2 314.0,304.0 321.7,303.1 333.1,304.6 345.7,306.5 353.3,305.9 362.2,302.1 383.8,293.9 397.7,284.4 402.8,281.2 423.9,270.0 434.5,260.5 455.6,240.4 476.7,223.5 497.8,207.7 514.7,197.1 529.5,192.9 550.0,189.3 554.8,187.7 567.5,184.7 582.2,174.6 599.1,165.1 613.9,159.8 623.6,158.3 636.3,153.9 654.0,151.3 664.2,147.5 675.6,146.9 685.7,145.0 704.7,144.1 714.9,143.1 725.0,140.8 732.6,141.8 742.7,146.9 752.9,152.0 765.5,157.0 775.7,161.5 793.4,164.6 806.1,167.2 813.7,172.2 820.0,180.0 826.3,185.7 839.0,195.2 854.2,202.2 872.0,219.9 880.8,233.2 891.0,251.0 901.1,270.0 908.7,285.2 915.7,300.0 929.1,330.0 948.0,368.0 965.5,410.0 975.0,426.9 989.8,450.1 1000.0,465.7 1007.6,474.2 1015.2,483.2 1023.8,485.1 1032.3,487.5 1039.9,491.3 1047.5,495.3 1055.6,495.3 1061.8,491.3 1068.4,485.6 1076.0,480.4 1081.7,476.1 1089.3,473.3 1095.0,472.3 1099.8,473.3 1103.6,474.2 1109.3,472.3 1118.8,467.6 1126.4,461.9 1134.9,455.7 1144.4,449.0 1152.0,445.2 1160.0,445.3 1166.3,442.7 1171.6,443.8 1181.1,448.0 1187.5,450.6 1194.8,452.2 1202.2,451.7 1207.5,450.9 1214.9,452.7 1220.2,458.0 1227.6,466.5 1233.9,473.9 1240.3,479.7 1250.8,484.4 1259.3,486.5 1265.6,487.6 1276.2,492.3 1286.7,498.1 1296.2,505.0 1309.4,513.5 1311.0,514.5" fill="none" stroke="#3cb371" stroke-width="1" />
<polyline points="13.0,644.0 20.9,629.8 41.8,591.8 68.4,561.4 79.8,553.0 81.7,546.0 95.0,508.0 101.4,500.0 109.8,483.7 126.7,474.9 147.8,473.2 160.5,475.3 173.2,483.7 183.7,488.0 197.6,488.0 207.1,479.6 220.4,447.3 231.8,432.1 247.0,405.5 266.0,401.7 278.3,384.8 295.2,379.5 307.8,354.2 318.4,343.0 329.0,342.6 335.3,344.7 351.1,343.6 359.6,350.4 372.2,355.2 383.9,361.6 399.7,361.6 408.1,365.4 418.7,369.0 431.4,373.6 439.8,361.6 448.3,351.0 465.2,337.3 477.8,321.4 486.3,309.8 494.7,288.7 505.3,261.2 511.6,245.4 519.0,240.4 530.0,230.2 535.9,223.5 550.6,217.9 560.0,212.6 566.4,213.7 573.8,225.3 582.2,240.0 593.9,250.0 605.0,254.0 615.0,254.0 625.5,250.0 641.4,244.3 656.2,239.0 668.8,232.7 679.4,231.6 692.0,225.3 709.0,223.2 719.5,219.0 742.8,214.9 758.0,210.3 773.2,203.5 780.8,204.2 796.0,211.0 807.4,216.8 812.9,230.9 823.5,260.5 832.0,283.7 838.0,297.6 846.5,305.0 856.0,315.5 861.2,333.5 867.6,350.4 876.0,377.8 884.5,401.0 894.8,426.9 903.2,462.8 911.7,498.7 919.0,528.3 928.6,549.4 940.0,567.9 944.2,573.5 949.9,590.4 955.5,604.5 961.1,618.5 968.0,633.0" fill="none" stroke="#3cb371" stroke-width="1" />
<polyline points="1011.0,633.0 1013.2,629.8 1016.7,624.9 1027.3,617.1 1037.1,612.9 1047.0,608.4 1055.4,607.3 1063.9,618.5 1071.6,622.5 1080.8,618.5 1086.4,616.4 1094.8,615.3 1103.3,619.0 1113.1,607.3 1120.2,596.7 1127.2,579.1 1135.7,560.8 1144.1,548.2 1151.1,536.6 1159.6,535.2 1166.6,531.3 1173.7,532.4 1180.0,531.9 1192.7,536.2 1207.5,533.4 1215.9,535.1 1224.4,534.0 1232.8,544.6 1245.5,553.0 1258.1,557.3 1266.6,563.6 1275.0,576.3 1285.6,589.0 1296.2,597.4 1311.0,602.3" fill="none" stroke="#3cb371" stroke-width="1" />
</g>
<rect x="0" y="562" width="1658" height="1" fill="#000"/>
<rect x="0" y="478" width="1659" height="2" fill="#ff0000"/>
<rect x="-2" y="476" width="6" height="6" fill="#ff0000"/><rect x="0" y="478" width="2" height="2" fill="#fff"/>
<rect x="1652" y="476" width="6" height="6" fill="#ff0000"/><rect x="1654" y="478" width="2" height="2" fill="#fff"/>
<rect x="0" y="514" width="1659" height="2" fill="#ff0000"/>
<rect x="-2" y="512" width="6" height="6" fill="#ff0000"/><rect x="0" y="514" width="2" height="2" fill="#fff"/>
<rect x="1652" y="512" width="6" height="6" fill="#ff0000"/><rect x="1654" y="514" width="2" height="2" fill="#fff"/>
<rect x="0" y="546" width="1659" height="2" fill="#ffa500"/>
<rect x="-2" y="544" width="6" height="6" fill="#ffa500"/><rect x="0" y="546" width="2" height="2" fill="#fff"/>
<rect x="1652" y="544" width="6" height="6" fill="#ffa500"/><rect x="1654" y="546" width="2" height="2" fill="#fff"/>
<rect x="0" y="591" width="1659" height="2" fill="#0000ff"/>
<rect x="-2" y="589" width="6" height="6" fill="#0000ff"/><rect x="0" y="591" width="2" height="2" fill="#fff"/>
<rect x="1652" y="589" width="6" height="6" fill="#0000ff"/><rect x="1654" y="591" width="2" height="2" fill="#fff"/>
<rect x="0" y="619" width="1659" height="2" fill="#0000ff"/>
<rect x="-2" y="617" width="6" height="6" fill="#0000ff"/><rect x="0" y="619" width="2" height="2" fill="#fff"/>
<rect x="1652" y="617" width="6" height="6" fill="#0000ff"/><rect x="1654" y="619" width="2" height="2" fill="#fff"/>
</g>
<g shape-rendering="crispEdges"><polygon points="1139.8,424.3 1141.0,424.4 1352,589.0 1352,593.2 1141.0,428.6 1139.8,427.2" fill="#00ff00"/>
<polygon points="1352.6,585.4 1345.6,592.8 1356.3,597.2 1359.3,597.2 1359.3,594.3" fill="#00ff00"/></g>
<g shape-rendering="crispEdges">
<rect x="1704" y="25" width="1" height="922" fill="#e3e3e3"/>
<rect x="-2" y="665" width="3" height="18" fill="#00ff00"/>
<rect x="6" y="661" width="3" height="22" fill="#00ff00"/>
<rect x="14" y="657" width="3" height="26" fill="#00ff00"/>
<rect x="22" y="657" width="3" height="26" fill="#00ff00"/>
<rect x="30" y="657" width="3" height="26" fill="#00ff00"/>
<rect x="38" y="657" width="3" height="26" fill="#00ff00"/>
<rect x="46" y="659" width="3" height="24" fill="#00ff00"/>
<rect x="54" y="664" width="3" height="19" fill="#00ff00"/>
<rect x="62" y="669" width="3" height="14" fill="#00ff00"/>
<rect x="70" y="667" width="3" height="16" fill="#00ff00"/>
<rect x="78" y="668" width="3" height="15" fill="#00ff00"/>
<rect x="86" y="668" width="3" height="15" fill="#00ff00"/>
<rect x="94" y="662" width="3" height="21" fill="#00ff00"/>
<rect x="102" y="658" width="3" height="25" fill="#00ff00"/>
<rect x="110" y="656" width="3" height="27" fill="#00ff00"/>
<rect x="118" y="659" width="3" height="24" fill="#00ff00"/>
<rect x="126" y="656" width="3" height="27" fill="#00ff00"/>
<rect x="134" y="654" width="3" height="29" fill="#00ff00"/>
<rect x="142" y="655" width="3" height="28" fill="#00ff00"/>
<rect x="150" y="660" width="3" height="23" fill="#00ff00"/>
<rect x="158" y="657" width="3" height="26" fill="#00ff00"/>
<rect x="166" y="652" width="3" height="31" fill="#00ff00"/>
<rect x="174" y="648" width="3" height="35" fill="#00ff00"/>
<rect x="182" y="644" width="3" height="39" fill="#00ff00"/>
<rect x="190" y="642" width="3" height="41" fill="#00ff00"/>
<rect x="198" y="641" width="3" height="42" fill="#00ff00"/>
<rect x="206" y="643" width="3" height="40" fill="#00ff00"/>
<rect x="214" y="644" width="3" height="39" fill="#00ff00"/>
<rect x="222" y="644" width="3" height="39" fill="#00ff00"/>
<rect x="230" y="648" width="3" height="35" fill="#00ff00"/>
<rect x="238" y="650" width="3" height="33" fill="#00ff00"/>
<rect x="246" y="650" width="3" height="33" fill="#00ff00"/>
<rect x="254" y="650" width="3" height="33" fill="#00ff00"/>
<rect x="262" y="650" width="3" height="33" fill="#00ff00"/>
<rect x="270" y="652" width="3" height="31" fill="#00ff00"/>
<rect x="278" y="658" width="3" height="25" fill="#00ff00"/>
<rect x="286" y="662" width="3" height="21" fill="#00ff00"/>
<rect x="294" y="663" width="3" height="20" fill="#00ff00"/>
<rect x="302" y="664" width="3" height="19" fill="#00ff00"/>
<rect x="310" y="665" width="3" height="18" fill="#00ff00"/>
<rect x="318" y="665" width="3" height="18" fill="#00ff00"/>
<rect x="326" y="666" width="3" height="17" fill="#00ff00"/>
<rect x="334" y="668" width="3" height="15" fill="#00ff00"/>
<rect x="342" y="669" width="3" height="14" fill="#00ff00"/>
<rect x="350" y="669" width="3" height="14" fill="#00ff00"/>
<rect x="358" y="664" width="3" height="19" fill="#00ff00"/>
<rect x="366" y="661" width="3" height="22" fill="#00ff00"/>
<rect x="374" y="659" width="3" height="24" fill="#00ff00"/>
<rect x="382" y="656" width="3" height="27" fill="#00ff00"/>
<rect x="390" y="653" width="3" height="30" fill="#00ff00"/>
<rect x="398" y="652" width="3" height="31" fill="#00ff00"/>
<rect x="406" y="649" width="3" height="34" fill="#00ff00"/>
<rect x="414" y="647" width="3" height="36" fill="#00ff00"/>
<rect x="422" y="645" width="3" height="38" fill="#00ff00"/>
<rect x="430" y="642" width="3" height="41" fill="#00ff00"/>
<rect x="438" y="641" width="3" height="42" fill="#00ff00"/>
<rect x="446" y="640" width="3" height="43" fill="#00ff00"/>
<rect x="454" y="641" width="3" height="42" fill="#00ff00"/>
<rect x="462" y="643" width="3" height="40" fill="#00ff00"/>
<rect x="470" y="644" width="3" height="39" fill="#00ff00"/>
<rect x="478" y="647" width="3" height="36" fill="#00ff00"/>
<rect x="486" y="650" width="3" height="33" fill="#00ff00"/>
<rect x="494" y="651" width="3" height="32" fill="#00ff00"/>
<rect x="502" y="653" width="3" height="30" fill="#00ff00"/>
<rect x="510" y="655" width="3" height="28" fill="#00ff00"/>
<rect x="518" y="655" width="3" height="28" fill="#00ff00"/>
<rect x="526" y="659" width="3" height="24" fill="#00ff00"/>
<rect x="534" y="661" width="3" height="22" fill="#00ff00"/>
<rect x="542" y="663" width="3" height="20" fill="#00ff00"/>
<rect x="550" y="666" width="3" height="17" fill="#00ff00"/>
<rect x="558" y="666" width="3" height="17" fill="#00ff00"/>
<rect x="566" y="664" width="3" height="19" fill="#00ff00"/>
<rect x="574" y="658" width="3" height="25" fill="#00ff00"/>
<rect x="582" y="652" width="3" height="31" fill="#00ff00"/>
<rect x="590" y="647" width="3" height="36" fill="#00ff00"/>
<rect x="598" y="645" width="3" height="38" fill="#00ff00"/>
<rect x="606" y="644" width="3" height="39" fill="#00ff00"/>
<rect x="614" y="645" width="3" height="38" fill="#00ff00"/>
<rect x="622" y="650" width="3" height="33" fill="#00ff00"/>
<rect x="630" y="654" width="3" height="29" fill="#00ff00"/>
<rect x="638" y="659" width="3" height="24" fill="#00ff00"/>
<rect x="646" y="663" width="3" height="20" fill="#00ff00"/>
<rect x="654" y="665" width="3" height="18" fill="#00ff00"/>
<rect x="662" y="665" width="3" height="18" fill="#00ff00"/>
<rect x="670" y="668" width="3" height="15" fill="#00ff00"/>
<rect x="678" y="671" width="3" height="12" fill="#00ff00"/>
<rect x="686" y="675" width="3" height="8" fill="#00ff00"/>
<rect x="694" y="679" width="3" height="4" fill="#00ff00"/>
<rect x="702" y="681" width="3" height="2" fill="#00ff00"/>
<rect x="710" y="683" width="3" height="3" fill="#00ff00"/>
<rect x="718" y="683" width="3" height="1" fill="#00ff00"/>
<rect x="726" y="679" width="3" height="4" fill="#00ff00"/>
<rect x="734" y="678" width="3" height="5" fill="#00ff00"/>
<rect x="742" y="678" width="3" height="5" fill="#00ff00"/>
<rect x="750" y="680" width="3" height="3" fill="#00ff00"/>
<rect x="758" y="680" width="3" height="3" fill="#00ff00"/>
<rect x="766" y="680" width="3" height="3" fill="#00ff00"/>
<rect x="774" y="680" width="3" height="3" fill="#00ff00"/>
<rect x="782" y="683" width="3" height="1" fill="#00ff00"/>
<rect x="790" y="683" width="3" height="3" fill="#00ff00"/>
<rect x="798" y="683" width="3" height="6" fill="#00ff00"/>
<rect x="806" y="683" width="3" height="8" fill="#00ff00"/>
<rect x="814" y="683" width="3" height="15" fill="#00ff00"/>
<rect x="822" y="683" width="3" height="23" fill="#00ff00"/>
<rect x="830" y="683" width="3" height="29" fill="#00ff00"/>
<rect x="838" y="683" width="3" height="33" fill="#00ff00"/>
<rect x="846" y="683" width="3" height="33" fill="#00ff00"/>
<rect x="854" y="683" width="3" height="34" fill="#00ff00"/>
<rect x="862" y="683" width="3" height="41" fill="#00ff00"/>
<rect x="870" y="683" width="3" height="46" fill="#00ff00"/>
<rect x="878" y="683" width="3" height="53" fill="#00ff00"/>
<rect x="886" y="683" width="3" height="57" fill="#00ff00"/>
<rect x="894" y="683" width="3" height="63" fill="#00ff00"/>
<rect x="902" y="683" width="3" height="71" fill="#00ff00"/>
<rect x="910" y="683" width="3" height="78" fill="#00ff00"/>
<rect x="918" y="683" width="3" height="85" fill="#00ff00"/>
<rect x="926" y="683" width="3" height="88" fill="#00ff00"/>
<rect x="934" y="683" width="3" height="87" fill="#00ff00"/>
<rect x="942" y="683" width="3" height="86" fill="#00ff00"/>
<rect x="950" y="683" width="3" height="92" fill="#00ff00"/>
<rect x="958" y="683" width="3" height="95" fill="#00ff00"/>
<rect x="966" y="683" width="3" height="98" fill="#00ff00"/>
<rect x="974" y="683" width="3" height="98" fill="#00ff00"/>
<rect x="982" y="683" width="3" height="94" fill="#00ff00"/>
<rect x="990" y="683" width="3" height="91" fill="#00ff00"/>
<rect x="998" y="683" width="3" height="82" fill="#00ff00"/>
<rect x="1006" y="683" width="3" height="74" fill="#00ff00"/>
<rect x="1014" y="683" width="3" height="61" fill="#00ff00"/>
<rect x="1022" y="683" width="3" height="49" fill="#00ff00"/>
<rect x="1030" y="683" width="3" height="39" fill="#00ff00"/>
<rect x="1038" y="683" width="3" height="36" fill="#00ff00"/>
<rect x="1046" y="683" width="3" height="35" fill="#00ff00"/>
<rect x="1054" y="683" width="3" height="29" fill="#00ff00"/>
<rect x="1062" y="683" width="3" height="17" fill="#00ff00"/>
<rect x="1070" y="683" width="3" height="10" fill="#00ff00"/>
<rect x="1078" y="683" width="3" height="7" fill="#00ff00"/>
<rect x="1086" y="683" width="3" height="6" fill="#00ff00"/>
<rect x="1094" y="683" width="3" height="8" fill="#00ff00"/>
<rect x="1102" y="683" width="3" height="15" fill="#00ff00"/>
<rect x="1110" y="683" width="3" height="19" fill="#00ff00"/>
<rect x="1118" y="683" width="3" height="20" fill="#00ff00"/>
<rect x="1126" y="683" width="3" height="21" fill="#00ff00"/>
<rect x="1134" y="683" width="3" height="18" fill="#00ff00"/>
<rect x="1142" y="683" width="3" height="15" fill="#00ff00"/>
<rect x="1150" y="683" width="3" height="14" fill="#00ff00"/>
<rect x="1158" y="683" width="3" height="14" fill="#00ff00"/>
<rect x="1166" y="683" width="3" height="14" fill="#00ff00"/>
<rect x="1174" y="683" width="3" height="12" fill="#00ff00"/>
<rect x="1182" y="683" width="3" height="10" fill="#00ff00"/>
<rect x="1190" y="683" width="3" height="13" fill="#00ff00"/>
<rect x="1198" y="683" width="3" height="11" fill="#00ff00"/>
<rect x="1206" y="683" width="3" height="11" fill="#00ff00"/>
<rect x="1214" y="683" width="3" height="11" fill="#00ff00"/>
<rect x="1222" y="683" width="3" height="15" fill="#00ff00"/>
<rect x="1230" y="683" width="3" height="21" fill="#00ff00"/>
<rect x="1238" y="683" width="3" height="26" fill="#00ff00"/>
<rect x="1246" y="683" width="3" height="25" fill="#00ff00"/>
<rect x="1254" y="683" width="3" height="24" fill="#00ff00"/>
<rect x="1262" y="683" width="3" height="26" fill="#00ff00"/>
<rect x="1270" y="683" width="3" height="29" fill="#00ff00"/>
<rect x="1278" y="683" width="3" height="32" fill="#00ff00"/>
<rect x="1286" y="683" width="3" height="33" fill="#00ff00"/>
<rect x="1294" y="683" width="3" height="33" fill="#00ff00"/>
<rect x="1302" y="683" width="3" height="32" fill="#00ff00"/>
<rect x="1310" y="683" width="3" height="32" fill="#00ff00"/>
<clipPath id="c2"><rect x="0" y="633" width="1658" height="155"/></clipPath>
<g clip-path="url(#c2)">
<polyline points="-2.0,694.0 0.0,692.0 8.3,683.7 16.7,678.7 25.0,672.5 33.4,667.9 41.7,664.5 48.4,662.0 58.4,661.2 70.0,661.2 80.0,662.9 88.4,663.7 106.8,663.7 126.8,663.7 135.2,661.7 150.2,659.5 160.2,657.0 175.2,655.4 183.5,654.0 200.2,650.0 215.2,648.7 225.3,645.8 233.6,644.8 245.3,644.8 255.3,646.5 270.3,648.2 286.7,652.9 303.4,657.0 311.7,657.4 328.4,662.0 343.4,665.9 358.4,666.2 373.5,666.2 383.5,664.5 393.5,662.9 403.5,660.4 415.2,657.4 423.5,654.2 431.9,652.0 440.2,648.7 448.5,647.0 455.2,646.7 463.6,644.0 486.9,644.0 495.3,645.3 510.3,647.4 520.3,649.5 530.3,652.0 540.3,654.5 550.0,657.4 560.0,659.9 570.0,660.9 581.7,660.9 593.4,659.5 603.4,657.4 615.1,654.5 623.4,652.4 633.4,651.2 646.8,651.2 656.8,652.4 666.8,655.4 676.8,659.5 690.2,664.5 700.2,668.7 710.2,672.0 723.5,675.4 733.6,677.1 745.2,680.1 773.6,680.1 790.3,680.1 800.3,681.6 810.3,684.4 820.0,687.9 831.7,691.2 843.4,697.6 856.7,704.6 871.7,711.3 886.8,721.3 896.8,725.4 910.1,733.8 926.8,747.1 936.8,753.0 943.5,755.8 951.8,761.3 963.5,767.2 975.2,772.7 983.5,773.8 998.6,773.8 1006.9,772.7 1016.9,769.2 1026.9,763.0 1035.3,755.5 1043.6,748.0 1052.0,741.3 1063.6,729.6 1073.6,718.8 1082.0,711.3 1086.7,707.9 1095.0,702.9 1103.4,699.9 1111.7,698.2 1120.0,697.1 1130.0,695.9 1143.4,696.2 1151.8,697.9 1166.8,697.9 1181.8,697.6 1191.8,696.2 1201.8,694.9 1213.5,694.9 1218.5,694.1 1225.2,695.1 1238.5,695.9 1246.9,698.4 1255.2,699.1 1263.5,701.2 1271.9,703.4 1280.2,705.1 1288.6,708.8 1296.9,710.8 1303.6,711.3 1311.9,712.1" fill="none" stroke="#ff0000" stroke-width="2" />
</g>
<line x1="0" y1="819.5" x2="1658" y2="819.5" stroke="#000" stroke-width="1" stroke-dasharray="3,3"/>
<line x1="0" y1="859.5" x2="1658" y2="859.5" stroke="#000" stroke-width="1" stroke-dasharray="3,3"/>
<line x1="0" y1="907.5" x2="1658" y2="907.5" stroke="#000" stroke-width="1" stroke-dasharray="3,3"/>
<polyline points="-1.0,844.9 7.0,844.9 15.0,842.9 23.0,850.9 31.0,849.9 39.0,848.9 47.0,854.9 55.0,863.8 63.0,863.8 71.0,851.9 79.0,855.9 87.0,854.9 95.0,842.9 103.0,842.9 111.0,846.9 119.0,856.3 127.0,846.9 135.0,845.9 143.0,852.9 151.0,856.3 159.0,848.9 167.0,843.5 175.0,841.9 183.0,839.9 191.0,842.3 199.0,842.3 207.0,847.5 215.0,847.5 223.0,844.9 231.0,852.9 239.0,852.9 247.0,846.3 255.0,846.9 263.0,844.9 271.0,850.9 279.0,862.8 287.0,860.8 295.0,852.9 303.0,852.9 311.0,852.9 319.0,851.9 327.0,855.5 335.0,857.9 343.0,852.9 351.0,852.9 359.0,841.5 367.0,842.9 375.0,841.5 383.0,838.5 391.0,837.9 399.0,837.9 407.0,833.9 415.0,833.9 423.0,833.5 431.0,830.3 439.0,828.9 447.0,829.9 455.0,833.9 463.0,839.5 471.0,840.9 479.0,838.9 487.0,844.9 495.0,842.9 503.0,843.9 511.0,842.9 519.0,837.9 527.0,857.9 535.0,852.9 543.0,853.9 551.0,857.5 559.0,847.9 567.0,837.9 575.0,829.9 583.0,827.9 591.0,827.9 599.0,830.9 607.0,832.9 615.0,841.9 623.0,855.9 631.0,854.9 639.0,858.9 647.0,862.8 655.0,852.9 663.0,851.9 671.0,858.9 679.0,862.2 687.0,865.8 695.0,868.8 703.0,864.8 711.0,870.8 719.0,855.9 727.0,848.9 735.0,852.9 743.0,860.8 751.0,862.2 759.0,859.9 767.0,854.9 775.0,862.2 783.0,864.2 791.0,866.4 799.0,869.8 807.0,867.8 815.0,881.8 823.0,884.8 831.0,884.8 839.0,883.8 847.0,873.8 855.0,876.2 863.0,887.8 871.0,887.8 879.0,892.8 887.0,890.8 895.0,894.7 903.0,899.7 911.0,900.1 919.0,902.7 927.0,894.7 935.0,890.2 943.0,890.2 951.0,897.7 959.0,896.7 967.0,899.1 975.0,890.8 983.0,884.2 991.0,883.8 999.0,872.2 1007.0,871.8 1015.0,857.5 1023.0,854.9 1031.0,854.9 1039.0,864.8 1047.0,868.8 1055.0,858.9 1063.0,848.9 1071.0,851.9 1079.0,856.9 1087.0,861.4 1095.0,863.4 1103.0,872.8 1111.0,871.4 1119.0,867.8 1127.0,866.8 1135.0,859.9 1143.0,859.5 1151.0,859.5 1159.0,866.8 1167.0,862.2 1175.0,860.8 1183.0,859.9 1191.0,867.8 1199.0,862.2 1207.0,862.8 1215.0,864.2 1223.0,872.2 1231.0,877.8 1239.0,877.8 1247.0,867.2 1255.0,867.2 1263.0,872.2 1271.0,874.8 1279.0,877.8 1287.0,873.4 1295.0,873.2 1303.0,869.8 1311.0,871.8" fill="none" stroke="#1e90ff" stroke-width="2" />
<rect x="1659" y="33" width="2" height="1" fill="#000"/>
<rect x="1659" y="66" width="2" height="1" fill="#000"/>
<rect x="1659" y="99" width="2" height="1" fill="#000"/>
<rect x="1659" y="132" width="2" height="1" fill="#000"/>
<rect x="1659" y="165" width="2" height="1" fill="#000"/>
<rect x="1659" y="198" width="2" height="1" fill="#000"/>
<rect x="1659" y="231" width="2" height="1" fill="#000"/>
<rect x="1659" y="264" width="2" height="1" fill="#000"/>
<rect x="1659" y="297" width="2" height="1" fill="#000"/>
<rect x="1659" y="330" width="2" height="1" fill="#000"/>
<rect x="1659" y="363" width="2" height="1" fill="#000"/>
<rect x="1659" y="396" width="2" height="1" fill="#000"/>
<rect x="1659" y="429" width="2" height="1" fill="#000"/>
<rect x="1659" y="462" width="2" height="1" fill="#000"/>
<rect x="1659" y="495" width="2" height="1" fill="#000"/>
<rect x="1659" y="528" width="2" height="1" fill="#000"/>
<rect x="1659" y="594" width="2" height="1" fill="#000"/>
<rect x="1659" y="627" width="2" height="1" fill="#000"/>
<rect x="1659" y="683" width="2" height="1" fill="#000"/>
<rect x="1659" y="819" width="2" height="1" fill="#000"/>
<rect x="1659" y="859" width="2" height="1" fill="#000"/>
<rect x="1659" y="907" width="2" height="1" fill="#000"/>
<rect x="1659" y="928" width="2" height="1" fill="#000"/>
<rect x="63" y="929" width="1" height="3" fill="#000"/>
<rect x="127" y="929" width="1" height="3" fill="#000"/>
<rect x="191" y="929" width="1" height="3" fill="#000"/>
<rect x="255" y="929" width="1" height="3" fill="#000"/>
<rect x="319" y="929" width="1" height="3" fill="#000"/>
<rect x="383" y="929" width="1" height="3" fill="#000"/>
<rect x="447" y="929" width="1" height="3" fill="#000"/>
<rect x="511" y="929" width="1" height="3" fill="#000"/>
<rect x="575" y="929" width="1" height="3" fill="#000"/>
<rect x="639" y="929" width="1" height="3" fill="#000"/>
<rect x="703" y="929" width="1" height="3" fill="#000"/>
<rect x="767" y="929" width="1" height="3" fill="#000"/>
<rect x="831" y="929" width="1" height="3" fill="#000"/>
<rect x="895" y="929" width="1" height="3" fill="#000"/>
<rect x="959" y="929" width="1" height="3" fill="#000"/>
<rect x="1023" y="929" width="1" height="3" fill="#000"/>
<rect x="1087" y="929" width="1" height="3" fill="#000"/>
<rect x="1151" y="929" width="1" height="3" fill="#000"/>
<rect x="1215" y="929" width="1" height="3" fill="#000"/>
<rect x="1279" y="929" width="1" height="3" fill="#000"/>
</g>
<text class="ax" x="1664" y="36.5" textLength="32.8" lengthAdjust="spacingAndGlyphs" >0.73005</text>
<text class="ax" x="1664" y="69.5" textLength="32.8" lengthAdjust="spacingAndGlyphs" >0.72750</text>
<text class="ax" x="1664" y="102.5" textLength="32.8" lengthAdjust="spacingAndGlyphs" >0.72490</text>
<text class="ax" x="1664" y="135.5" textLength="32.8" lengthAdjust="spacingAndGlyphs" >0.72235</text>
<text class="ax" x="1664" y="168.5" textLength="32.8" lengthAdjust="spacingAndGlyphs" >0.71980</text>
<text class="ax" x="1664" y="201.5" textLength="32.8" lengthAdjust="spacingAndGlyphs" >0.71725</text>
<text class="ax" x="1664" y="234.5" textLength="32.8" lengthAdjust="spacingAndGlyphs" >0.71470</text>
<text class="ax" x="1664" y="267.5" textLength="32.8" lengthAdjust="spacingAndGlyphs" >0.71215</text>
<text class="ax" x="1664" y="300.5" textLength="32.8" lengthAdjust="spacingAndGlyphs" >0.70955</text>
<text class="ax" x="1664" y="333.5" textLength="32.8" lengthAdjust="spacingAndGlyphs" >0.70700</text>
<text class="ax" x="1664" y="366.5" textLength="32.8" lengthAdjust="spacingAndGlyphs" >0.70445</text>
<text class="ax" x="1664" y="399.5" textLength="32.8" lengthAdjust="spacingAndGlyphs" >0.70190</text>
<text class="ax" x="1664" y="432.5" textLength="32.8" lengthAdjust="spacingAndGlyphs" >0.69935</text>
<text class="ax" x="1664" y="465.5" textLength="32.8" lengthAdjust="spacingAndGlyphs" >0.69675</text>
<text class="ax" x="1664" y="498.5" textLength="32.8" lengthAdjust="spacingAndGlyphs" >0.69420</text>
<text class="ax" x="1664" y="531.5" textLength="32.8" lengthAdjust="spacingAndGlyphs" >0.69165</text>
<text class="ax" x="1664" y="597.5" textLength="32.8" lengthAdjust="spacingAndGlyphs" >0.68655</text>
<text class="ax" x="1664" y="630.5" textLength="32.8" lengthAdjust="spacingAndGlyphs" >0.68400</text>
<text class="ax" x="1662.5" y="642.9" textLength="38" lengthAdjust="spacingAndGlyphs" >0.003672</text>
<text class="ax" x="1662.5" y="686.9" textLength="18" lengthAdjust="spacingAndGlyphs" >0.00</text>
<text class="ax" x="1662" y="784.9" textLength="41.3" lengthAdjust="spacingAndGlyphs" >-0.007656</text>
<text class="ax" x="1662.5" y="800.9" textLength="15" lengthAdjust="spacingAndGlyphs" >100</text>
<text class="ax" x="1662.5" y="822.9" textLength="10" lengthAdjust="spacingAndGlyphs" >80</text>
<text class="ax" x="1662.5" y="862.9" textLength="10" lengthAdjust="spacingAndGlyphs" >50</text>
<text class="ax" x="1662.5" y="910.9" textLength="10" lengthAdjust="spacingAndGlyphs" >15</text>
<text class="ax" x="1662.5" y="924.9" textLength="5" lengthAdjust="spacingAndGlyphs" >0</text>
<rect x="1660" y="473" width="41" height="11" fill="#ff0000" shape-rendering="crispEdges"/>
<text class="lb" x="1664" y="482.2" textLength="32.8" lengthAdjust="spacingAndGlyphs" >0.69549</text>
<rect x="1660" y="509" width="41" height="11" fill="#ff0000" shape-rendering="crispEdges"/>
<text class="lb" x="1664" y="518.2" textLength="32.8" lengthAdjust="spacingAndGlyphs" >0.69270</text>
<rect x="1660" y="541" width="41" height="11" fill="#ffa500" shape-rendering="crispEdges"/>
<text class="lb" x="1664" y="550.2" textLength="32.8" lengthAdjust="spacingAndGlyphs" >0.69022</text>
<rect x="1660" y="586" width="41" height="11" fill="#0000ff" shape-rendering="crispEdges"/>
<text class="lb" x="1664" y="595.2" textLength="32.8" lengthAdjust="spacingAndGlyphs" >0.68674</text>
<rect x="1660" y="614" width="41" height="11" fill="#0000ff" shape-rendering="crispEdges"/>
<text class="lb" x="1664" y="623.2" textLength="32.8" lengthAdjust="spacingAndGlyphs" >0.68457</text>
<rect x="1660" y="557" width="41" height="11" fill="#000000" shape-rendering="crispEdges"/>
<text class="lb" x="1664" y="566.2" textLength="32.8" lengthAdjust="spacingAndGlyphs" >0.68907</text>
<text class="ax" x="-1" y="940.8" textLength="54.8" lengthAdjust="spacingAndGlyphs" >17 May 2022</text>
<text class="ax" x="63" y="940.8" textLength="57.8" lengthAdjust="spacingAndGlyphs" >18 May 20:00</text>
<text class="ax" x="127" y="940.8" textLength="57.8" lengthAdjust="spacingAndGlyphs" >20 May 04:00</text>
<text class="ax" x="191" y="940.8" textLength="57.8" lengthAdjust="spacingAndGlyphs" >23 May 12:00</text>
<text class="ax" x="255" y="940.8" textLength="57.8" lengthAdjust="spacingAndGlyphs" >24 May 20:00</text>
<text class="ax" x="319" y="940.8" textLength="57.8" lengthAdjust="spacingAndGlyphs" >26 May 04:00</text>
<text class="ax" x="383" y="940.8" textLength="57.8" lengthAdjust="spacingAndGlyphs" >27 May 12:00</text>
<text class="ax" x="447" y="940.8" textLength="57.8" lengthAdjust="spacingAndGlyphs" >30 May 20:00</text>
<text class="ax" x="511" y="940.8" textLength="48" lengthAdjust="spacingAndGlyphs" >1 Jun 04:00</text>
<text class="ax" x="575" y="940.8" textLength="48" lengthAdjust="spacingAndGlyphs" >2 Jun 12:00</text>
<text class="ax" x="639" y="940.8" textLength="48" lengthAdjust="spacingAndGlyphs" >5 Jun 23:00</text>
<text class="ax" x="703" y="940.8" textLength="48" lengthAdjust="spacingAndGlyphs" >7 Jun 04:00</text>
<text class="ax" x="767" y="940.8" textLength="48" lengthAdjust="spacingAndGlyphs" >8 Jun 12:00</text>
<text class="ax" x="831" y="940.8" textLength="48" lengthAdjust="spacingAndGlyphs" >9 Jun 20:00</text>
<text class="ax" x="895" y="940.8" textLength="53" lengthAdjust="spacingAndGlyphs" >13 Jun 04:00</text>
<text class="ax" x="959" y="940.8" textLength="53" lengthAdjust="spacingAndGlyphs" >14 Jun 12:00</text>
<text class="ax" x="1023" y="940.8" textLength="53" lengthAdjust="spacingAndGlyphs" >15 Jun 20:00</text>
<text class="ax" x="1087" y="940.8" textLength="53" lengthAdjust="spacingAndGlyphs" >17 Jun 04:00</text>
<text class="ax" x="1151" y="940.8" textLength="53" lengthAdjust="spacingAndGlyphs" >20 Jun 12:00</text>
<text class="ax" x="1215" y="940.8" textLength="53" lengthAdjust="spacingAndGlyphs" >21 Jun 20:00</text>
<text class="ax" x="1279" y="940.8" textLength="53" lengthAdjust="spacingAndGlyphs" >23 Jun 04:00</text>
<polygon points="2,34 9.4,34 5.7,38.4" fill="#000"/>
<text class="ax" x="15" y="38.9" textLength="204.6" lengthAdjust="spacingAndGlyphs" xml:space="preserve">AUDUSD-,H4  0.69016 0.69024 0.68893 0.68907</text>
<text class="ax" x="3.5" y="645" textLength="153" lengthAdjust="spacingAndGlyphs" >MACD(12,26,9) -0.002214 -0.002071</text>
<text class="ax" x="3.5" y="802.9" textLength="67.5" lengthAdjust="spacingAndGlyphs" >RSI(14) 41.0259</text>
<polygon points="1319.6,28 1329.4,28 1324.5,33.2" fill="#000"/>
<g id="toolbar">
<defs>
<linearGradient id="gGold" x1="0" y1="0" x2="1" y2="1"><stop offset="0" stop-color="#fbe36a"/><stop offset="0.5" stop-color="#e6b422"/><stop offset="1" stop-color="#a8720c"/></linearGradient>
<linearGradient id="gGreen" x1="0" y1="0" x2="0" y2="1"><stop offset="0" stop-color="#5ff05f"/><stop offset="1" stop-color="#00a800"/></linearGradient>
<linearGradient id="gBlue" x1="0" y1="0" x2="1" y2="1"><stop offset="0" stop-color="#4aa8ff"/><stop offset="1" stop-color="#0a58c8"/></linearGradient>
<linearGradient id="gCloud" x1="0" y1="0" x2="0" y2="1"><stop offset="0" stop-color="#ffffff"/><stop offset="1" stop-color="#b8c8e8"/></linearGradient>
<radialGradient id="gRed" cx="0.5" cy="0.35" r="0.7"><stop offset="0" stop-color="#f0522e"/><stop offset="1" stop-color="#d62a14"/></radialGradient>
<pattern id="chk" width="2" height="2" patternUnits="userSpaceOnUse"><rect width="2" height="2" fill="#f6f6f6"/><rect width="1" height="1" fill="#fdfdfd"/><rect x="1" y="1" width="1" height="1" fill="#fdfdfd"/></pattern>
</defs>
<rect x="0" y="0" width="1705" height="22" fill="#f0f0f0"/>
<rect x="0" y="22" width="1705" height="1" fill="#f5f5f5"/>
<rect x="0" y="23" width="1705" height="1" fill="#a0a0a0"/>
<rect x="0" y="24" width="1705" height="1" fill="#696969"/>
<rect x="0" y="21" width="16" height="1" fill="#a8a8a8" shape-rendering="crispEdges"/><rect x="15" y="0" width="1" height="22" fill="#a8a8a8" shape-rendering="crispEdges"/><rect x="16" y="0" width="1" height="22" fill="#fafafa"/>
<rect x="-3" y="3" width="8" height="10" fill="#fff" stroke="#b0a890" stroke-width="1"/>
<circle cx="1" cy="11" r="5.2" fill="#d4ecfa" fill-opacity="0.9" stroke="#5a9ae0" stroke-width="1.3"/>
<line x1="6" y1="15" x2="10" y2="19" stroke="#c89a10" stroke-width="3.2"/>
<rect x="19" y="0" width="1" height="21" fill="#8c8c8c" shape-rendering="crispEdges"/><rect x="20" y="0" width="1" height="21" fill="#fafafa" shape-rendering="crispEdges"/>
<path d="M29.5 3.5 H37.5 L40.5 6.5 V16.5 H29.5 Z" fill="#fff" stroke="#808080" stroke-width="1"/>
<path d="M37.5 3.5 V6.5 H40.5" fill="none" stroke="#808080" stroke-width="1"/>
<rect x="31" y="5.5" width="3" height="1.4" fill="#909090"/><rect x="31" y="9" width="5" height="1" fill="#909090"/><rect x="31" y="11" width="5" height="1" fill="#909090"/><rect x="31" y="13" width="3" height="1" fill="#909090"/>
<path d="M37.2 9.5 H41 V13.3 H44.8 V17 H41 V20.8 H37.2 V17 H33.3 V13.3 H37.2 Z" fill="url(#gGreen)" stroke="#008a00" stroke-width="0.9"/>
<path d="M28.5 15.8 L30.2 17.5 L28.5 19.2 L26.8 17.5 Z" fill="#fff" stroke="#000" stroke-width="0.8"/>
<text class="cn" x="48" y="14.4">新订单</text>
<path d="M96 12.6 L102.3 4.2 L111.6 11.3 L104.6 18.8 Z" fill="url(#gGold)" stroke="#9a6408" stroke-width="0.9"/>
<path d="M97 13.6 L104.6 18.8 L111.6 11.3" fill="none" stroke="#7a4c04" stroke-width="1.3"/>
<path d="M126.5 4 L134 3.2 L137.2 4.6 V12.5 H126.5 Z" fill="url(#gBlue)" stroke="#1c66d8" stroke-width="0.8"/>
<rect x="130.5" y="6.2" width="5.5" height="1.6" fill="#d8ecff"/><rect x="130.5" y="9" width="5.5" height="1.2" fill="#d8ecff"/><line x1="129.3" y1="4" x2="129.3" y2="12.5" stroke="#d8ecff" stroke-width="0.9"/>
<path d="M127.5 18.3 C123.8 18.3 123.8 13.8 127.3 13.8 C127.8 11.2 131.8 10.8 133 13 C134.8 11.6 137.5 12.6 137.3 14.6 C140.3 14.6 140.3 18.3 137.3 18.3 Z" fill="url(#gCloud)" stroke="#4a6cb0" stroke-width="0.9"/>
<circle cx="160" cy="10.6" r="7.4" fill="none" stroke="#7a9ade" stroke-width="1.1" stroke-opacity="0.8"/>
<circle cx="160" cy="10.6" r="4.6" fill="none" stroke="#5a82d8" stroke-width="1.2" stroke-opacity="0.9"/>
<path d="M160 10.6 L160 18.2 A7.6 7.6 0 0 0 167.4 9 Z" fill="#8fc08f" fill-opacity="0.75"/>
<circle cx="160" cy="10.4" r="1.9" fill="#2858c8"/>
<rect x="159.4" y="11" width="1.5" height="7.6" fill="#18a018"/>
<path d="M181.5 10.5 L194 10.5 L193.5 17 L189 19 Z" fill="#f8dc50" stroke="#d8a818" stroke-width="0.7"/>
<ellipse cx="187.2" cy="8.3" rx="7.8" ry="2.8" fill="#58a8e0" stroke="#2878b8" stroke-width="0.7"/>
<ellipse cx="187" cy="5.8" rx="3.8" ry="2.8" fill="#68b4e8" stroke="#2878b8" stroke-width="0.6"/>
<circle cx="191.6" cy="14.8" r="4" fill="#e0220c" stroke="#b81808" stroke-width="0.6"/><rect x="190" y="13.2" width="3.2" height="3.2" fill="#fff"/>
<text class="cn" x="200.5" y="14.4">自动交易</text>
<rect x="255" y="0" width="1" height="23" fill="#8c8c8c" shape-rendering="crispEdges"/><rect x="256" y="0" width="1" height="23" fill="#fafafa" shape-rendering="crispEdges"/>
<rect x="259" y="1" width="3" height="1" fill="#b4b4b4" shape-rendering="crispEdges"/>
<rect x="259" y="3" width="3" height="1" fill="#b4b4b4" shape-rendering="crispEdges"/>
<rect x="259" y="5" width="3" height="1" fill="#b4b4b4" shape-rendering="crispEdges"/>
<rect x="259" y="7" width="3" height="1" fill="#b4b4b4" shape-rendering="crispEdges"/>
<rect x="259" y="9" width="3" height="1" fill="#b4b4b4" shape-rendering="crispEdges"/>
<rect x="259" y="11" width="3" height="1" fill="#b4b4b4" shape-rendering="crispEdges"/>
<rect x="259" y="13" width="3" height="1" fill="#b4b4b4" shape-rendering="crispEdges"/>
<rect x="259" y="15" width="3" height="1" fill="#b4b4b4" shape-rendering="crispEdges"/>
<rect x="259" y="17" width="3" height="1" fill="#b4b4b4" shape-rendering="crispEdges"/>
<rect x="259" y="19" width="3" height="1" fill="#b4b4b4" shape-rendering="crispEdges"/>
<g shape-rendering="crispEdges"><rect x="273" y="6" width="1" height="13" fill="#505050"/><rect x="271" y="16" width="14" height="1" fill="#505050"/></g>
<polygon points="273.5,4.6 271.4,7.6 275.6,7.6" fill="#505050"/><polygon points="286.4,16.5 283.4,14.4 283.4,18.6" fill="#505050"/>
<g shape-rendering="crispEdges" fill="#149414"><rect x="279" y="6" width="1.5" height="9"/><rect x="279" y="7" width="3.5" height="1.3"/><rect x="276.8" y="13" width="3" height="1.3"/></g>
<rect x="293" y="0" width="1" height="21" fill="#8c8c8c" shape-rendering="crispEdges"/><rect x="294" y="0" width="1" height="21" fill="#fafafa" shape-rendering="crispEdges"/>
<rect x="294" y="0" width="24" height="22" fill="url(#chk)"/>
<g shape-rendering="crispEdges"><rect x="301" y="6" width="1" height="13" fill="#505050"/><rect x="299" y="16" width="14" height="1" fill="#505050"/></g>
<polygon points="301.5,4.6 299.4,7.6 303.6,7.6" fill="#505050"/><polygon points="314.4,16.5 311.4,14.4 311.4,18.6" fill="#505050"/>
<rect x="307.2" y="3" width="1.2" height="12" fill="#0a8a0a"/><rect x="305.3" y="5.6" width="4.8" height="7" fill="url(#gGreen)" stroke="#0a8a0a" stroke-width="0.9"/>
<g shape-rendering="crispEdges"><rect x="329" y="6" width="1" height="13" fill="#505050"/><rect x="327" y="16" width="14" height="1" fill="#505050"/></g>
<polygon points="329.5,4.6 327.4,7.6 331.6,7.6" fill="#505050"/><polygon points="342.4,16.5 339.4,14.4 339.4,18.6" fill="#505050"/>
<path d="M328 13.6 C331 11.5 332.5 8 334.5 8 C336.5 8 338.5 11.5 340.8 12" fill="none" stroke="#1c9a1c" stroke-width="1.3"/>
<rect x="350" y="0" width="1" height="21" fill="#8c8c8c" shape-rendering="crispEdges"/><rect x="351" y="0" width="1" height="21" fill="#fafafa" shape-rendering="crispEdges"/>
<line x1="369.2" y1="13.2" x2="374" y2="18" stroke="#a88408" stroke-width="3.6"/><line x1="369.2" y1="13.2" x2="373.6" y2="17.6" stroke="#f0d040" stroke-width="1.8"/>
<circle cx="365" cy="9" r="5.4" fill="#d8f0fc" stroke="#2c7ccc" stroke-width="1.5"/>
<rect x="361.8" y="8.2" width="6.4" height="1.8" fill="#3080b0"/>
<rect x="364.1" y="5.8" width="1.8" height="6.4" fill="#3080b0"/>
<line x1="397.2" y1="13.2" x2="402" y2="18" stroke="#a88408" stroke-width="3.6"/><line x1="397.2" y1="13.2" x2="401.6" y2="17.6" stroke="#f0d040" stroke-width="1.8"/>
<circle cx="393" cy="9" r="5.4" fill="#d8f0fc" stroke="#2c7ccc" stroke-width="1.5"/>
<rect x="389.8" y="8.2" width="6.4" height="1.8" fill="#3080b0"/>
<rect x="415" y="3" width="8" height="8" fill="#3a9c1a"/><rect x="416.2" y="6" width="5.6" height="4" fill="#fff"/><rect x="417.2" y="7.2" width="3.6" height="1" fill="#3a9c1a" fill-opacity="0.55"/><rect x="416" y="4" width="1" height="1" fill="#fff" fill-opacity="0.8"/>
<rect x="423" y="3" width="8" height="8" fill="#1c54d4"/><rect x="424.2" y="6" width="5.6" height="4" fill="#fff"/><rect x="425.2" y="7.2" width="3.6" height="1" fill="#1c54d4" fill-opacity="0.55"/><rect x="424" y="4" width="1" height="1" fill="#fff" fill-opacity="0.8"/>
<rect x="415" y="11" width="8" height="8" fill="#1c54d4"/><rect x="416.2" y="14" width="5.6" height="4" fill="#fff"/><rect x="417.2" y="15.2" width="3.6" height="1" fill="#1c54d4" fill-opacity="0.55"/><rect x="416" y="12" width="1" height="1" fill="#fff" fill-opacity="0.8"/>
<rect x="423" y="11" width="8" height="8" fill="#3a9c1a"/><rect x="424.2" y="14" width="5.6" height="4" fill="#fff"/><rect x="425.2" y="15.2" width="3.6" height="1" fill="#3a9c1a" fill-opacity="0.55"/><rect x="424" y="12" width="1" height="1" fill="#fff" fill-opacity="0.8"/>
<rect x="440" y="0" width="1" height="21" fill="#8c8c8c" shape-rendering="crispEdges"/><rect x="441" y="0" width="1" height="21" fill="#fafafa" shape-rendering="crispEdges"/>
<rect x="445" y="0" width="1" height="21" fill="#8c8c8c" shape-rendering="crispEdges"/>
<rect x="446" y="0" width="24" height="22" fill="url(#chk)"/>
<g shape-rendering="crispEdges"><rect x="453" y="6" width="1" height="13" fill="#505050"/><rect x="451" y="16" width="14" height="1" fill="#505050"/></g>
<polygon points="453.5,4.6 451.4,7.6 455.6,7.6" fill="#505050"/><polygon points="466.4,16.5 463.4,14.4 463.4,18.6" fill="#505050"/>
<polygon points="458,7 462.2,10.5 458,14" fill="#58d858" stroke="#109010" stroke-width="1"/>
<rect x="473" y="0" width="1" height="21" fill="#8c8c8c" shape-rendering="crispEdges"/>
<rect x="474" y="0" width="24" height="22" fill="url(#chk)"/>
<g shape-rendering="crispEdges"><rect x="481" y="6" width="1" height="13" fill="#505050"/><rect x="479" y="16" width="14" height="1" fill="#505050"/></g>
<polygon points="481.5,4.6 479.4,7.6 483.6,7.6" fill="#505050"/><polygon points="494.4,16.5 491.4,14.4 491.4,18.6" fill="#505050"/>
<rect x="487" y="5" width="1.3" height="10" fill="#1c6ca8"/>
<path d="M488.6 10.5 L491.3 8.2 L490.8 10 H493.2 V11 H490.8 L491.3 12.8 Z" fill="#e04008" stroke="#c83000" stroke-width="0.5"/>
<rect x="502" y="0" width="1" height="21" fill="#8c8c8c" shape-rendering="crispEdges"/><rect x="503" y="0" width="1" height="21" fill="#fafafa" shape-rendering="crispEdges"/>
<path d="M512.5 3.5 H520.5 L523.5 6.5 V16.5 H512.5 Z" fill="#fff" stroke="#909090" stroke-width="1"/><path d="M520.5 3.5 V6.5 H523.5" fill="none" stroke="#909090"/>
<text x="514.5" y="13" style="font-size:9px;font-style:italic;fill:#505050">f</text>
<path d="M520.2 9.5 H524.2 V13.2 H528 V17 H524.2 V20.8 H520.2 V17 H516.3 V13.2 H520.2 Z" fill="url(#gGreen)" stroke="#008a00" stroke-width="0.9"/>
<polygon points="533.8,10 539.4,10 536.5999999999999,13.2" fill="#000"/>
<circle cx="558" cy="11" r="6.6" fill="#f4f8ff" stroke="url(#gBlue)" stroke-width="2.8"/><circle cx="558" cy="11" r="8" fill="none" stroke="#0a48a0" stroke-width="0.5"/>
<path d="M557.3 6.5 V11.2 H561" fill="none" stroke="#202020" stroke-width="1.3"/>
<polygon points="572.8,10 578.4,10 575.5999999999999,13.2" fill="#000"/>
<rect x="589.5" y="4.5" width="15" height="13" fill="#fff" stroke="#3a72c4" stroke-width="1"/><rect x="590" y="5" width="14" height="2" fill="#5a92e0"/><rect x="590" y="11.6" width="14" height="1" fill="#3a72c4"/>
<path d="M591.5 10 L593.5 10 L595 8.6 L597 9.6 L599 9.6 L601 8.4 L603 8.4" fill="none" stroke="#a82008" stroke-width="1.2"/>
<path d="M591.5 15.6 L593.5 15.2 L595 15.8 L597 15.6 L599.5 13.6 L601 14.2 L603 15.8" fill="none" stroke="#109010" stroke-width="1.2"/>
<polygon points="611.8,10 617.4,10 614.5999999999999,13.2" fill="#000"/>
<rect x="623" y="0" width="1" height="23" fill="#8c8c8c" shape-rendering="crispEdges"/><rect x="624" y="0" width="1" height="23" fill="#fafafa" shape-rendering="crispEdges"/>
<rect x="627" y="1" width="3" height="1" fill="#b4b4b4" shape-rendering="crispEdges"/>
<rect x="627" y="3" width="3" height="1" fill="#b4b4b4" shape-rendering="crispEdges"/>
<rect x="627" y="5" width="3" height="1" fill="#b4b4b4" shape-rendering="crispEdges"/>
<rect x="627" y="7" width="3" height="1" fill="#b4b4b4" shape-rendering="crispEdges"/>
<rect x="627" y="9" width="3" height="1" fill="#b4b4b4" shape-rendering="crispEdges"/>
<rect x="627" y="11" width="3" height="1" fill="#b4b4b4" shape-rendering="crispEdges"/>
<rect x="627" y="13" width="3" height="1" fill="#b4b4b4" shape-rendering="crispEdges"/>
<rect x="627" y="15" width="3" height="1" fill="#b4b4b4" shape-rendering="crispEdges"/>
<rect x="627" y="17" width="3" height="1" fill="#b4b4b4" shape-rendering="crispEdges"/>
<rect x="627" y="19" width="3" height="1" fill="#b4b4b4" shape-rendering="crispEdges"/>
<rect x="633" y="0" width="1" height="21" fill="#8c8c8c" shape-rendering="crispEdges"/>
<rect x="634" y="0" width="24" height="22" fill="url(#chk)"/>
<polygon points="641,3.8 641,15 643.8,12.6 646.3,18.2 648.2,17.4 645.8,12 649.5,11.8" fill="#484848"/>
<g shape-rendering="crispEdges" fill="#484848"><rect x="666" y="11" width="6" height="1"/><rect x="675" y="11" width="6" height="1"/><rect x="673" y="4" width="1" height="6"/><rect x="673" y="13" width="1" height="6"/><rect x="673" y="11" width="1" height="1" fill="#909090"/></g>
<rect x="690" y="0" width="1" height="21" fill="#8c8c8c" shape-rendering="crispEdges"/><rect x="691" y="0" width="1" height="21" fill="#fafafa" shape-rendering="crispEdges"/>
<g shape-rendering="crispEdges" fill="#484848"><rect x="707" y="5" width="1" height="13"/><rect x="730" y="11" width="12" height="1"/></g>
<line x1="757.7" y1="17.7" x2="770" y2="5.8" stroke="#484848" stroke-width="1.1"/>
<g stroke="#484848" stroke-width="1" fill="none"><line x1="784" y1="13" x2="792.5" y2="5"/><line x1="785.5" y1="17.2" x2="797.5" y2="6"/><line x1="789" y1="18" x2="798" y2="9.6"/><path d="M786 12 L788 16 L790.5 8.5 L792.5 13.5 L795.5 3.5 L796.5 10"/></g>
<text x="794.6" y="19.6" style="font-size:6.5px;font-weight:bold;fill:#383838">E</text>
<line x1="813" y1="4.5" x2="826.5" y2="4.5" stroke="#484848" stroke-width="1" stroke-dasharray="1,1" shape-rendering="crispEdges"/>
<line x1="813" y1="7.5" x2="826.5" y2="7.5" stroke="#484848" stroke-width="1" stroke-dasharray="1,1" shape-rendering="crispEdges"/>
<line x1="813" y1="11.5" x2="826.5" y2="11.5" stroke="#484848" stroke-width="1" stroke-dasharray="1,1" shape-rendering="crispEdges"/>
<line x1="813" y1="15.5" x2="822" y2="15.5" stroke="#484848" stroke-width="1" stroke-dasharray="1,1" shape-rendering="crispEdges"/>
<text x="822.8" y="19.6" style="font-size:6.5px;font-weight:bold;fill:#383838">F</text>
<text x="843.2" y="15.8" style="font-size:12.5px;font-weight:bold;fill:#505050">A</text>
<rect x="870.5" y="5.5" width="11" height="12" fill="none" stroke="#484848" stroke-width="1" stroke-dasharray="1,1" shape-rendering="crispEdges"/>
<text x="871.9" y="15.6" style="font-size:11px;font-weight:bold;fill:#505050">T</text>
<polygon points="900.5,4.8 904,8 900.5,10 897,8" fill="#484848"/><polygon points="907.5,18 911,14.6 907.5,13 904,14.6" fill="#484848"/>
<path d="M899.3 12.6 L901.6 14.6 L905.6 9.6" fill="none" stroke="#484848" stroke-width="1.3"/>
<polygon points="917.6,10 923.2,10 920.4,13.2" fill="#000"/>
<rect x="929" y="0" width="1" height="23" fill="#8c8c8c" shape-rendering="crispEdges"/><rect x="930" y="0" width="1" height="23" fill="#fafafa" shape-rendering="crispEdges"/>
<rect x="933" y="1" width="3" height="1" fill="#b4b4b4" shape-rendering="crispEdges"/>
<rect x="933" y="3" width="3" height="1" fill="#b4b4b4" shape-rendering="crispEdges"/>
<rect x="933" y="5" width="3" height="1" fill="#b4b4b4" shape-rendering="crispEdges"/>
<rect x="933" y="7" width="3" height="1" fill="#b4b4b4" shape-rendering="crispEdges"/>
<rect x="933" y="9" width="3" height="1" fill="#b4b4b4" shape-rendering="crispEdges"/>
<rect x="933" y="11" width="3" height="1" fill="#b4b4b4" shape-rendering="crispEdges"/>
<rect x="933" y="13" width="3" height="1" fill="#b4b4b4" shape-rendering="crispEdges"/>
<rect x="933" y="15" width="3" height="1" fill="#b4b4b4" shape-rendering="crispEdges"/>
<rect x="933" y="17" width="3" height="1" fill="#b4b4b4" shape-rendering="crispEdges"/>
<rect x="933" y="19" width="3" height="1" fill="#b4b4b4" shape-rendering="crispEdges"/>
<rect x="1079" y="0" width="1" height="21" fill="#8c8c8c" shape-rendering="crispEdges"/>
<rect x="1080" y="0" width="24" height="22" fill="url(#chk)"/>
<text class="tb" x="951" y="14.9" text-anchor="middle">M1</text>
<text class="tb" x="979" y="14.9" text-anchor="middle">M5</text>
<text class="tb" x="1007" y="14.9" text-anchor="middle">M15</text>
<text class="tb" x="1035" y="14.9" text-anchor="middle">M30</text>
<text class="tb" x="1063" y="14.9" text-anchor="middle">H1</text>
<text class="tb" x="1091" y="14.9" text-anchor="middle">H4</text>
<text class="tb" x="1119" y="14.9" text-anchor="middle">D1</text>
<text class="tb" x="1147" y="14.9" text-anchor="middle">W1</text>
<text class="tb" x="1175" y="14.9" text-anchor="middle">MN</text>
<rect x="1190" y="0" width="1" height="21" fill="#8c8c8c" shape-rendering="crispEdges"/><rect x="1191" y="0" width="1" height="21" fill="#fafafa" shape-rendering="crispEdges"/>
<circle cx="1660.6" cy="8.6" r="3.9" fill="#f4f6fc" stroke="#2a5ccc" stroke-width="1.4"/><line x1="1657.6" y1="11.4" x2="1653.3" y2="15.6" stroke="#2a5ccc" stroke-width="2.4"/>
<path d="M1678 13 C1678 9 1682 8 1685 8 C1690 8 1692 10 1692 13 C1692 16 1689 17.4 1685 17.4 L1682.5 17.4 L1680.5 19.4 L1680.8 16.8 C1679 16 1678 14.8 1678 13 Z" fill="#e4e6ee" stroke="#a8a8a8" stroke-width="0.9"/>
<circle cx="1691.6" cy="8.3" r="8.2" fill="url(#gRed)"/>
<text x="1691.4" y="13" text-anchor="middle" style="font-size:13px;font-weight:bold;fill:#fff">1</text>
</g>
</svg></body></html>
